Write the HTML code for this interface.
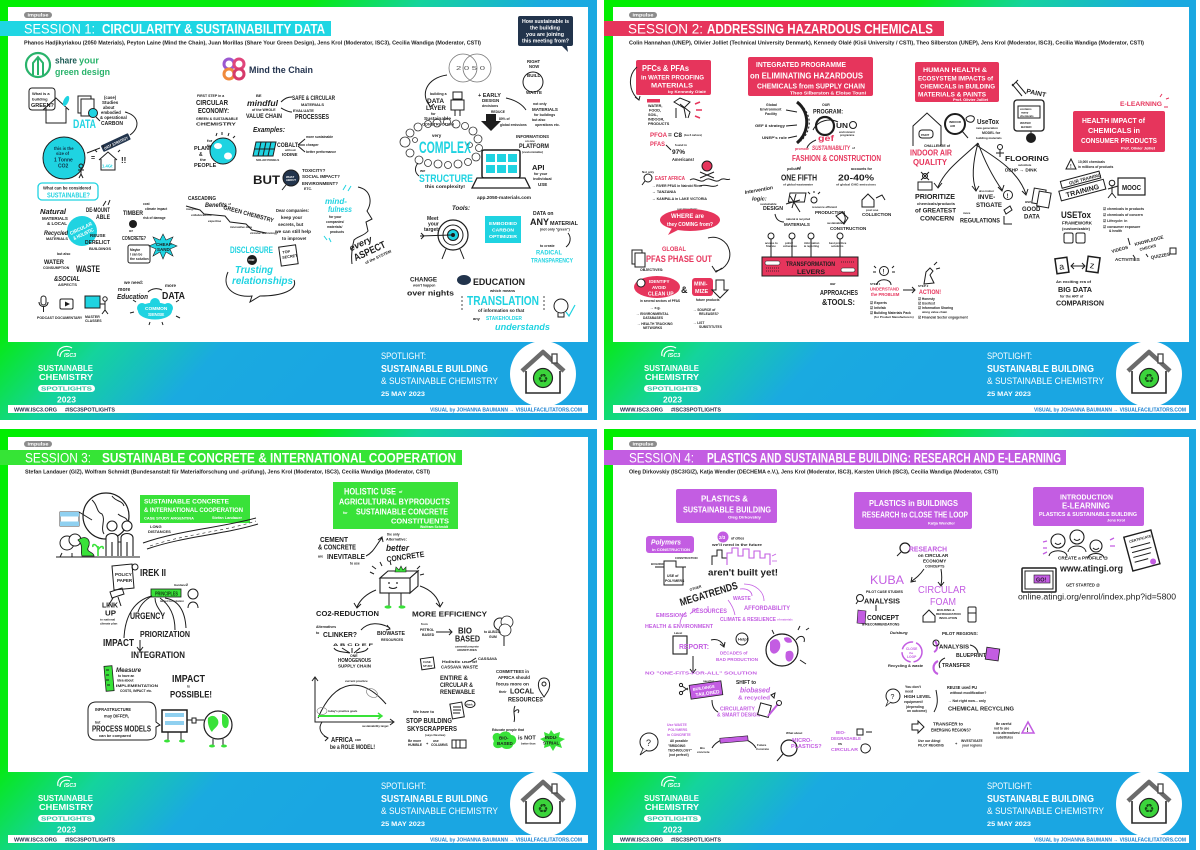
<!DOCTYPE html>
<html><head><meta charset="utf-8"><style>
html,body{margin:0;padding:0;background:#fff;}
svg{display:block}
text{font-family:"Liberation Sans",Arial,sans-serif;font-weight:bold;fill:#1d1d1d}
.w{fill:#fff}.c{fill:#1fd3e1}.p{fill:#e6355c}.g{fill:#39e239}.v{fill:#c35de2}.n{font-weight:normal}.i{font-style:italic}.b{fill:#1e2e48}.bl{fill:#1a82d2}
.s{stroke:#1d1d1d;fill:none;stroke-width:1}
</style></head><body>
<svg width="1200" height="850" viewBox="0 0 1200 850" xmlns="http://www.w3.org/2000/svg">
<defs>
<linearGradient id="fg" gradientUnits="userSpaceOnUse" x1="0" y1="0" x2="365" y2="340">
<stop offset="0" stop-color="#00ee00"/><stop offset="0.46" stop-color="#06ea12"/><stop offset="0.62" stop-color="#14d49c"/><stop offset="0.80" stop-color="#1aaae0"/><stop offset="1" stop-color="#1aa6e2"/>
</linearGradient>
</defs>
<rect width="1200" height="850" fill="#fff"/>

<!-- ================= PANEL FRAMES ================= -->
<g transform="translate(0,0)">
<rect width="597" height="420" fill="url(#fg)"/>
<rect x="8" y="7" width="580" height="335" fill="#fff"/>
<rect x="8" y="405" width="580" height="8" fill="#fff"/>
<circle cx="543" cy="374" r="33" fill="#fff"/>
<g transform="translate(543,374)"><path d="M-17 -3 V19 H17 V-3" stroke="#2a2a2a" stroke-width="1.6" fill="#fff"/><path d="M-21 -3 L0 -22 L21 -3" stroke="#6b6b6b" stroke-width="4.5" fill="none" stroke-linejoin="round"/><rect x="9" y="-20" width="5" height="9" fill="#fff" stroke="#444" stroke-width="1.3"/><circle cx="0" cy="4" r="9.5" fill="#3bd43b" stroke="#222" stroke-width="1.2"/><text x="0" y="8.5" font-size="12" text-anchor="middle" style="font-family:'DejaVu Sans',sans-serif;fill:#174a17">♻</text></g>
<path d="M58 356 C56 348, 66 344, 72 348 M60 357 C60 351, 66 349, 70 351" stroke="#fff" stroke-width="1.2" fill="none"/><text class="w i" x="64" y="357" font-size="5.5">ISC3</text>
<text class="w" x="38" y="371" font-size="8.5" textLength="55" lengthAdjust="spacingAndGlyphs">SUSTAINABLE</text>
<text class="w" x="39" y="380" font-size="8.5" textLength="54" lengthAdjust="spacingAndGlyphs">CHEMISTRY</text>
<rect x="38" y="385" width="57" height="7" rx="3.5" fill="#fff"/><text x="41" y="390.5" font-size="5.2" textLength="51" lengthAdjust="spacingAndGlyphs" style="fill:#2cc4a0">SPOTLIGHTS</text>
<text class="w" x="57" y="402.5" font-size="8.5" textLength="19" lengthAdjust="spacingAndGlyphs">2023</text>
<text class="w n" x="381" y="359" font-size="9" textLength="45" lengthAdjust="spacingAndGlyphs">SPOTLIGHT:</text>
<text class="w" x="381" y="372" font-size="10" textLength="107" lengthAdjust="spacingAndGlyphs">SUSTAINABLE BUILDING</text>
<text class="w n" x="381" y="384" font-size="9.5" textLength="117" lengthAdjust="spacingAndGlyphs">&amp; SUSTAINABLE CHEMISTRY</text>
<text class="w" x="381" y="396" font-size="6.5" textLength="44" lengthAdjust="spacingAndGlyphs">25 MAY 2023</text>
<text class="b" x="14" y="411.5" font-size="5.3" textLength="43" lengthAdjust="spacingAndGlyphs">WWW.ISC3.ORG</text>
<text class="b" x="65" y="411.5" font-size="5.3" textLength="50" lengthAdjust="spacingAndGlyphs">#ISC3SPOTLIGHTS</text>
<text class="bl" x="430" y="411.5" font-size="5.3" textLength="152" lengthAdjust="spacingAndGlyphs">VISUAL by JOHANNA BAUMANN → VISUALFACILITATORS.COM</text>
<rect x="24" y="12" width="28" height="6" rx="3" fill="#8c8c8c"/><text class="w" x="27.5" y="16.7" font-size="4.8" textLength="21" lengthAdjust="spacingAndGlyphs">impulse</text>
</g>

<g transform="translate(604,0)">
<rect width="592" height="420" fill="url(#fg)"/>
<rect x="9" y="7" width="576" height="335" fill="#fff"/>
<rect x="9" y="405" width="576" height="8" fill="#fff"/>
<circle cx="545" cy="374" r="33" fill="#fff"/>
<g transform="translate(545,374)"><path d="M-17 -3 V19 H17 V-3" stroke="#2a2a2a" stroke-width="1.6" fill="#fff"/><path d="M-21 -3 L0 -22 L21 -3" stroke="#6b6b6b" stroke-width="4.5" fill="none" stroke-linejoin="round"/><rect x="9" y="-20" width="5" height="9" fill="#fff" stroke="#444" stroke-width="1.3"/><circle cx="0" cy="4" r="9.5" fill="#3bd43b" stroke="#222" stroke-width="1.2"/><text x="0" y="8.5" font-size="12" text-anchor="middle" style="font-family:'DejaVu Sans',sans-serif;fill:#174a17">♻</text></g>
<path d="M58 356 C56 348, 66 344, 72 348 M60 357 C60 351, 66 349, 70 351" stroke="#fff" stroke-width="1.2" fill="none"/><text class="w i" x="64" y="357" font-size="5.5">ISC3</text>
<text class="w" x="40" y="371" font-size="8.5" textLength="55" lengthAdjust="spacingAndGlyphs">SUSTAINABLE</text>
<text class="w" x="41" y="380" font-size="8.5" textLength="54" lengthAdjust="spacingAndGlyphs">CHEMISTRY</text>
<rect x="40" y="385" width="57" height="7" rx="3.5" fill="#fff"/><text x="43" y="390.5" font-size="5.2" textLength="51" lengthAdjust="spacingAndGlyphs" style="fill:#2cc4a0">SPOTLIGHTS</text>
<text class="w" x="59" y="402.5" font-size="8.5" textLength="19" lengthAdjust="spacingAndGlyphs">2023</text>
<text class="w n" x="383" y="359" font-size="9" textLength="45" lengthAdjust="spacingAndGlyphs">SPOTLIGHT:</text>
<text class="w" x="383" y="372" font-size="10" textLength="107" lengthAdjust="spacingAndGlyphs">SUSTAINABLE BUILDING</text>
<text class="w n" x="383" y="384" font-size="9.5" textLength="117" lengthAdjust="spacingAndGlyphs">&amp; SUSTAINABLE CHEMISTRY</text>
<text class="w" x="383" y="396" font-size="6.5" textLength="44" lengthAdjust="spacingAndGlyphs">25 MAY 2023</text>
<text class="b" x="16" y="411.5" font-size="5.3" textLength="43" lengthAdjust="spacingAndGlyphs">WWW.ISC3.ORG</text>
<text class="b" x="67" y="411.5" font-size="5.3" textLength="50" lengthAdjust="spacingAndGlyphs">#ISC3SPOTLIGHTS</text>
<text class="bl" x="430" y="411.5" font-size="5.3" textLength="152" lengthAdjust="spacingAndGlyphs">VISUAL by JOHANNA BAUMANN → VISUALFACILITATORS.COM</text>
<rect x="25" y="12" width="28" height="6" rx="3" fill="#8c8c8c"/><text class="w" x="28.5" y="16.7" font-size="4.8" textLength="21" lengthAdjust="spacingAndGlyphs">impulse</text>
</g>

<g transform="translate(0,429)">
<rect width="597" height="421" fill="url(#fg)"/>
<rect x="8" y="8" width="580" height="335" fill="#fff"/>
<rect x="8" y="406" width="580" height="8" fill="#fff"/>
<circle cx="543" cy="375" r="33" fill="#fff"/>
<g transform="translate(543,375)"><path d="M-17 -3 V19 H17 V-3" stroke="#2a2a2a" stroke-width="1.6" fill="#fff"/><path d="M-21 -3 L0 -22 L21 -3" stroke="#6b6b6b" stroke-width="4.5" fill="none" stroke-linejoin="round"/><rect x="9" y="-20" width="5" height="9" fill="#fff" stroke="#444" stroke-width="1.3"/><circle cx="0" cy="4" r="9.5" fill="#3bd43b" stroke="#222" stroke-width="1.2"/><text x="0" y="8.5" font-size="12" text-anchor="middle" style="font-family:'DejaVu Sans',sans-serif;fill:#174a17">♻</text></g>
<path d="M58 357 C56 349, 66 345, 72 349 M60 358 C60 352, 66 350, 70 352" stroke="#fff" stroke-width="1.2" fill="none"/><text class="w i" x="64" y="358" font-size="5.5">ISC3</text>
<text class="w" x="38" y="372" font-size="8.5" textLength="55" lengthAdjust="spacingAndGlyphs">SUSTAINABLE</text>
<text class="w" x="39" y="381" font-size="8.5" textLength="54" lengthAdjust="spacingAndGlyphs">CHEMISTRY</text>
<rect x="38" y="386" width="57" height="7" rx="3.5" fill="#fff"/><text x="41" y="391.5" font-size="5.2" textLength="51" lengthAdjust="spacingAndGlyphs" style="fill:#2cc4a0">SPOTLIGHTS</text>
<text class="w" x="57" y="403.5" font-size="8.5" textLength="19" lengthAdjust="spacingAndGlyphs">2023</text>
<text class="w n" x="381" y="360" font-size="9" textLength="45" lengthAdjust="spacingAndGlyphs">SPOTLIGHT:</text>
<text class="w" x="381" y="373" font-size="10" textLength="107" lengthAdjust="spacingAndGlyphs">SUSTAINABLE BUILDING</text>
<text class="w n" x="381" y="385" font-size="9.5" textLength="117" lengthAdjust="spacingAndGlyphs">&amp; SUSTAINABLE CHEMISTRY</text>
<text class="w" x="381" y="397" font-size="6.5" textLength="44" lengthAdjust="spacingAndGlyphs">25 MAY 2023</text>
<text class="b" x="14" y="412.5" font-size="5.3" textLength="43" lengthAdjust="spacingAndGlyphs">WWW.ISC3.ORG</text>
<text class="b" x="65" y="412.5" font-size="5.3" textLength="50" lengthAdjust="spacingAndGlyphs">#ISC3SPOTLIGHTS</text>
<text class="bl" x="430" y="412.5" font-size="5.3" textLength="152" lengthAdjust="spacingAndGlyphs">VISUAL by JOHANNA BAUMANN → VISUALFACILITATORS.COM</text>
<rect x="24" y="12" width="28" height="6" rx="3" fill="#8c8c8c"/><text class="w" x="27.5" y="16.7" font-size="4.8" textLength="21" lengthAdjust="spacingAndGlyphs">impulse</text>
</g>

<g transform="translate(604,429)">
<rect width="592" height="421" fill="url(#fg)"/>
<rect x="9" y="8" width="576" height="335" fill="#fff"/>
<rect x="9" y="406" width="576" height="8" fill="#fff"/>
<circle cx="545" cy="375" r="33" fill="#fff"/>
<g transform="translate(545,375)"><path d="M-17 -3 V19 H17 V-3" stroke="#2a2a2a" stroke-width="1.6" fill="#fff"/><path d="M-21 -3 L0 -22 L21 -3" stroke="#6b6b6b" stroke-width="4.5" fill="none" stroke-linejoin="round"/><rect x="9" y="-20" width="5" height="9" fill="#fff" stroke="#444" stroke-width="1.3"/><circle cx="0" cy="4" r="9.5" fill="#3bd43b" stroke="#222" stroke-width="1.2"/><text x="0" y="8.5" font-size="12" text-anchor="middle" style="font-family:'DejaVu Sans',sans-serif;fill:#174a17">♻</text></g>
<path d="M58 357 C56 349, 66 345, 72 349 M60 358 C60 352, 66 350, 70 352" stroke="#fff" stroke-width="1.2" fill="none"/><text class="w i" x="64" y="358" font-size="5.5">ISC3</text>
<text class="w" x="40" y="372" font-size="8.5" textLength="55" lengthAdjust="spacingAndGlyphs">SUSTAINABLE</text>
<text class="w" x="41" y="381" font-size="8.5" textLength="54" lengthAdjust="spacingAndGlyphs">CHEMISTRY</text>
<rect x="40" y="386" width="57" height="7" rx="3.5" fill="#fff"/><text x="43" y="391.5" font-size="5.2" textLength="51" lengthAdjust="spacingAndGlyphs" style="fill:#2cc4a0">SPOTLIGHTS</text>
<text class="w" x="59" y="403.5" font-size="8.5" textLength="19" lengthAdjust="spacingAndGlyphs">2023</text>
<text class="w n" x="383" y="360" font-size="9" textLength="45" lengthAdjust="spacingAndGlyphs">SPOTLIGHT:</text>
<text class="w" x="383" y="373" font-size="10" textLength="107" lengthAdjust="spacingAndGlyphs">SUSTAINABLE BUILDING</text>
<text class="w n" x="383" y="385" font-size="9.5" textLength="117" lengthAdjust="spacingAndGlyphs">&amp; SUSTAINABLE CHEMISTRY</text>
<text class="w" x="383" y="397" font-size="6.5" textLength="44" lengthAdjust="spacingAndGlyphs">25 MAY 2023</text>
<text class="b" x="16" y="412.5" font-size="5.3" textLength="43" lengthAdjust="spacingAndGlyphs">WWW.ISC3.ORG</text>
<text class="b" x="67" y="412.5" font-size="5.3" textLength="50" lengthAdjust="spacingAndGlyphs">#ISC3SPOTLIGHTS</text>
<text class="bl" x="430" y="412.5" font-size="5.3" textLength="152" lengthAdjust="spacingAndGlyphs">VISUAL by JOHANNA BAUMANN → VISUALFACILITATORS.COM</text>
<rect x="25" y="12" width="28" height="6" rx="3" fill="#8c8c8c"/><text class="w" x="28.5" y="16.7" font-size="4.8" textLength="21" lengthAdjust="spacingAndGlyphs">impulse</text>
</g>

<!-- ================= PANEL 1 CONTENT ================= -->
<rect x="0" y="21" width="331" height="15" fill="#1fd6e3"/>
<text class="w n" x="24" y="33.5" font-size="13.5" textLength="71" lengthAdjust="spacingAndGlyphs">SESSION 1:</text>
<text class="w" x="102" y="33.5" font-size="13.5" textLength="223" lengthAdjust="spacingAndGlyphs">CIRCULARITY &amp; SUSTAINABILITY DATA</text>
<text x="24" y="44.5" font-size="5.5" textLength="457" lengthAdjust="spacingAndGlyphs">Phanos Hadjikyriakou (2050 Materials), Peyton Laine (Mind the Chain), Juan Morillas (Share Your Green Design), Jens Krol (Moderator, ISC3), Cecilia Wandiga (Moderator, CSTI)</text>
<rect x="518" y="16" width="55" height="30" rx="2" fill="#22344c"/><path d="M562 46 L568 52 L567 46Z" fill="#22344c"/>
<text class="w" x="522" y="23" font-size="5" textLength="47" lengthAdjust="spacingAndGlyphs">How sustainable is</text>
<text class="w" x="530" y="29.5" font-size="5" textLength="30" lengthAdjust="spacingAndGlyphs">the building</text>
<text class="w" x="526" y="36" font-size="5" textLength="38" lengthAdjust="spacingAndGlyphs">you are joining</text>
<text class="w" x="522" y="42.5" font-size="5" textLength="47" lengthAdjust="spacingAndGlyphs">this meeting from?</text>
<!-- logos -->
<circle cx="38" cy="65" r="12" fill="none" stroke="#29b36b" stroke-width="2.2"/><path d="M33 75 V63 L38 57 L43 63 V75 M38 57 V75" stroke="#29b36b" stroke-width="2" fill="none"/>
<text x="55" y="63.5" font-size="9" textLength="22" lengthAdjust="spacingAndGlyphs" style="fill:#1f5d57">share</text><text x="79" y="63.5" font-size="9" textLength="20" lengthAdjust="spacingAndGlyphs" style="fill:#29b36b">your</text>
<text x="55" y="75" font-size="9" textLength="55" lengthAdjust="spacingAndGlyphs" style="fill:#29b36b">green design</text>
<circle cx="229" cy="64" r="5" fill="none" stroke="#9b59d0" stroke-width="3"/><circle cx="239" cy="64" r="5" fill="none" stroke="#e0457b" stroke-width="3"/><circle cx="229" cy="74" r="5" fill="none" stroke="#f08a3c" stroke-width="3"/><circle cx="239" cy="74" r="5" fill="none" stroke="#d63a6a" stroke-width="3"/>
<text x="249" y="73" font-size="9.5" textLength="64" lengthAdjust="spacingAndGlyphs" style="fill:#24344f">Mind the Chain</text>
<circle cx="463" cy="68" r="14" fill="none" stroke="#777" stroke-width="0.8"/><circle cx="477" cy="68" r="14" fill="none" stroke="#777" stroke-width="0.8"/><text class="n" x="456" y="70" font-size="5" textLength="29" lengthAdjust="spacingAndGlyphs" style="fill:#555">2 0 5 0</text>
<text x="527" y="63" font-size="4.2">RIGHT</text><text x="529" y="68" font-size="4.2">NOW</text>
<circle cx="533" cy="82" r="10" class="s"/><text x="527" y="77" font-size="4.5">BUILD</text><text x="526" y="94" font-size="4.5">WASTE</text>
<!-- left column -->
<rect x="29" y="88" width="26" height="22" rx="3" class="s"/><text x="32" y="95" font-size="4">What is a</text><text x="32" y="100.5" font-size="4">building</text><text x="31" y="107" font-size="5.5">GREEN?</text>
<path d="M43 110 L56 98 L69 110 M46 108 V123 H66 V108" class="s" stroke-width="1.3"/><ellipse cx="66" cy="101" rx="2.5" ry="5.5" class="c" transform="rotate(25 66 101)"/>
<rect x="78" y="96" width="13" height="17" class="s" fill="#fff"/><rect x="81" y="99" width="13" height="17" fill="#fff" stroke="#1d1d1d"/><circle cx="93" cy="113" r="4.5" fill="#1fd3e1" stroke="#1d1d1d"/><path d="M96 117 L100 121" class="s" stroke-width="1.6"/>
<text class="c" x="73" y="128" font-size="12" textLength="23" lengthAdjust="spacingAndGlyphs">DATA</text>
<text x="104" y="99" font-size="4.2">(case)</text><text x="102" y="104" font-size="4.5">Studies</text><text x="103" y="109" font-size="4.2">about</text><text x="101" y="114" font-size="4.2">embodied</text><text x="100" y="119" font-size="4.2">&amp; operational</text><text x="101" y="125" font-size="5">CARBON</text>
<path d="M125 112 C140 116, 140 128, 130 135" class="s" stroke-width="0.8"/>
<g transform="rotate(-25 116 143)"><rect x="101" y="139" width="30" height="7" rx="1" fill="#22344c"/><text class="w" x="103" y="144.5" font-size="4" textLength="26" lengthAdjust="spacingAndGlyphs">DATA STRATEGY</text></g>
<path d="M100 148 L87 153" class="s"/>
<circle cx="64" cy="158" r="21" fill="#1fd3e1" stroke="#1d1d1d" stroke-width="1"/>
<text x="54" y="150" font-size="4.2" style="fill:#10334a">this is the</text><text x="56" y="155" font-size="4.2" style="fill:#10334a">size of</text><text x="54" y="161.5" font-size="5" style="fill:#10334a">1 Tonne</text><text x="58" y="167.5" font-size="5" style="fill:#10334a">CO2</text>
<circle cx="81" cy="166" r="2" class="s"/><path d="M81 168 V174 M78 170 L84 170 M81 174 L79 178 M81 174 L83 178" class="s" stroke-width="0.8"/>
<text x="91" y="160" font-size="7">=</text>
<path d="M99 160 L108 152 L117 160 M101 159 V170 H115 V159" class="s"/><text class="c" x="102" y="167.5" font-size="4.2">1.4Gt</text>
<text x="121" y="163" font-size="8">!!</text>
<path d="M103 145 L104 148 M112 144 L111 147 M95 150 L97 152 M120 150 L118 152" class="s" stroke-width="0.7"/>
<rect x="38" y="183" width="60" height="17" rx="4" fill="#fff" stroke="#1fd3e1" stroke-width="1.3"/>
<text x="43" y="189.5" font-size="4.5" textLength="48" lengthAdjust="spacingAndGlyphs">What can be considered</text>
<text class="c" x="47" y="197.5" font-size="7" textLength="43" lengthAdjust="spacingAndGlyphs">SUSTAINABLE?</text>
<text class="i" x="40" y="214" font-size="7" textLength="26" lengthAdjust="spacingAndGlyphs">Natural</text><text x="42" y="220" font-size="4.5">MATERIALS</text><text x="47" y="225" font-size="4.5">&amp; LOCAL</text>
<text x="86" y="212" font-size="6" textLength="24" lengthAdjust="spacingAndGlyphs">DE-MOUNT</text><text x="96" y="219" font-size="6" textLength="14" lengthAdjust="spacingAndGlyphs">ABLE</text>
<path d="M103 206 L106 201 M108 205 L110 200" class="s" stroke-width="0.8"/>
<circle cx="82" cy="231" r="15" fill="#1fd3e1"/>
<g transform="rotate(-25 82 231)"><text class="w" x="70" y="230" font-size="5" textLength="24" lengthAdjust="spacingAndGlyphs">CIRCULAR</text><text class="w" x="71" y="236" font-size="5" textLength="22" lengthAdjust="spacingAndGlyphs">&amp; HOLISTIC</text></g>
<text class="i" x="44" y="235" font-size="6.5" textLength="24" lengthAdjust="spacingAndGlyphs">Recycled</text><text x="46" y="240" font-size="3.8">MATERIALS</text>
<text x="90" y="237" font-size="4.5">REUSE</text><text x="85" y="244" font-size="5.5" textLength="25" lengthAdjust="spacingAndGlyphs">DERELICT</text><text x="89" y="250" font-size="4">BUILDINGS</text>
<text x="57" y="255" font-size="3.5">but also</text><text x="44" y="264" font-size="6" textLength="20" lengthAdjust="spacingAndGlyphs">WATER</text><text x="43" y="269" font-size="3.5">CONSUMPTION</text>
<text x="76" y="272" font-size="9" textLength="24" lengthAdjust="spacingAndGlyphs">WASTE</text>
<text class="i" x="54" y="281" font-size="7" textLength="26" lengthAdjust="spacingAndGlyphs">&amp;SOCIAL</text><text x="58" y="286" font-size="4">ASPECTS</text>
<rect x="41" y="296" width="5" height="9" rx="2.5" class="s"/><path d="M39 302 C39 308, 48 308, 48 302 M43.5 307 V312" class="s" stroke-width="0.8"/><text x="37" y="319" font-size="3.5">PODCAST</text>
<rect x="60" y="299" width="13" height="10" rx="1.5" class="s"/><path d="M65 301.5 L70 304 L65 306.5Z" fill="#1d1d1d"/><text x="55" y="319" font-size="3.5">DOCUMENTARY</text>
<rect x="85" y="296" width="15" height="12" fill="#1fd3e1" stroke="#1d1d1d"/><circle cx="105" cy="299" r="2.2" class="s"/><path d="M105 301 V310 M102 314 L105 310 L108 314 M100 304 L105 304" class="s" stroke-width="0.8"/><text x="85" y="318" font-size="3.5">MASTER</text><text x="85" y="322" font-size="3.5">CLASSES</text>
<text x="123" y="215" font-size="6" textLength="20" lengthAdjust="spacingAndGlyphs">TIMBER</text>
<text x="143" y="205" font-size="3.2">cost</text><text x="145" y="210" font-size="3.2">climate impact</text><text x="143" y="219" font-size="3.2">risk of damage</text>
<circle cx="133" cy="224" r="4" fill="#1d1d1d"/><text x="129" y="232" font-size="4">or</text>
<text x="122" y="240" font-size="5.5" textLength="24" lengthAdjust="spacingAndGlyphs">CONCRETE?</text>
<rect x="128" y="245" width="22" height="18" rx="2" class="s"/><text x="130" y="251" font-size="3.3">Maybe</text><text x="130" y="255.5" font-size="3.3">I can be</text><text x="130" y="260" font-size="3.3">the solution</text>
<polygon points="163,234 166,240 173,237 170,243 177,246 170,249 173,256 166,252 163,259 160,252 153,256 156,249 149,246 156,243 153,237 160,240" fill="#1fd3e1" stroke="#1d1d1d" stroke-width="0.6"/>
<text x="156" y="246" font-size="4.5">CHEAP</text><text x="157" y="251" font-size="4.5">SAND</text>
<text x="124" y="284" font-size="4.5">we need:</text><text x="118" y="291" font-size="5">more</text>
<text class="i" x="117" y="299" font-size="7.5" textLength="31" lengthAdjust="spacingAndGlyphs">Education</text>
<path d="M148 292 C152 288, 158 288, 162 290" class="s" stroke-width="0.8"/><text x="165" y="287" font-size="4.5">more</text>
<text x="162" y="299" font-size="10" textLength="23" lengthAdjust="spacingAndGlyphs">DATA</text>
<ellipse cx="155" cy="311" rx="17" ry="8.5" fill="#1fd3e1"/><circle cx="142" cy="308" r="5" fill="#1fd3e1"/><circle cx="168" cy="308" r="5" fill="#1fd3e1"/><circle cx="155" cy="303" r="5" fill="#1fd3e1"/>
<text class="w" x="145" y="310" font-size="4.8">COMMON</text><text class="w" x="148" y="316" font-size="4.8">SENSE</text>
<path d="M136 302 L133 300 M134 312 L130 313 M176 302 L179 300 M176 316 L180 318 M150 322 L149 325 M162 322 L163 325" class="s" stroke-width="0.7"/>
<!-- middle column -->
<text x="197" y="97" font-size="3.5">FIRST STEP in a</text>
<text x="196" y="105" font-size="7" textLength="32" lengthAdjust="spacingAndGlyphs">CIRCULAR</text>
<text x="198" y="113" font-size="7" textLength="31" lengthAdjust="spacingAndGlyphs">ECONOMY:</text>
<text x="196" y="120" font-size="3.8" textLength="42" lengthAdjust="spacingAndGlyphs">GREEN &amp; SUSTAINABLE</text>
<text x="196" y="125.5" font-size="4.5" textLength="40" lengthAdjust="spacingAndGlyphs">CHEMISTRY</text>
<text x="256" y="97" font-size="4">BE</text>
<text class="i" x="247" y="106" font-size="8.5" textLength="31" lengthAdjust="spacingAndGlyphs">mindful</text>
<text x="252" y="111" font-size="3.5">of the WHOLE</text>
<text x="246" y="118" font-size="6" textLength="36" lengthAdjust="spacingAndGlyphs">VALUE CHAIN</text>
<path d="M281 102 C285 98, 288 97, 292 97 M281 108 C285 110, 288 112, 292 112" class="s" stroke-width="0.8"/>
<text x="292" y="100" font-size="6.5" textLength="43" lengthAdjust="spacingAndGlyphs">SAFE &amp; CIRCULAR</text><text x="301" y="106" font-size="4">MATERIALS</text>
<text x="293" y="112" font-size="4">EVALUATE</text><text x="295" y="119" font-size="7" textLength="34" lengthAdjust="spacingAndGlyphs">PROCESSES</text>
<text x="207" y="142" font-size="4">for</text><text x="207" y="147" font-size="4">the</text><text x="194" y="150" font-size="5.5">PLANET</text><text x="199" y="156" font-size="5">&amp;</text><text x="200" y="161" font-size="4">the</text><text x="194" y="167" font-size="5.5">PEOPLE</text>
<circle cx="223" cy="151" r="13" fill="#1fd3e1" stroke="#1d1d1d" stroke-width="1"/><ellipse cx="218" cy="146" rx="4" ry="3" fill="#fff"/><ellipse cx="228" cy="156" rx="4" ry="3.5" fill="#fff"/><path d="M216 136 L217 133 M222 135 L222 132 M228 136 L229 133 M233 138 L235 136" class="s" stroke-width="0.7"/>
<text class="i" x="253" y="132" font-size="7.5" textLength="32" lengthAdjust="spacingAndGlyphs">Examples:</text>
<polygon points="256,142 276,142 273,156 253,156" fill="#1fd3e1" stroke="#1d1d1d"/><path d="M261 142 L258 156 M266 142 L263 156 M271 142 L268 156 M255 149 L275 149" class="s" stroke-width="0.6"/><text x="256" y="161" font-size="3">SOLAR PANELS</text>
<text x="277" y="147" font-size="6.5" textLength="21" lengthAdjust="spacingAndGlyphs">COBALT</text><text x="285" y="151" font-size="3">without</text><text x="282" y="156" font-size="4.5">IODINE</text>
<path d="M298 145 L305 139 M298 145 L305 145 M298 146 L305 152" class="s" stroke-width="0.6"/>
<text x="306" y="138" font-size="3.3">more sustainable</text><text x="306" y="146" font-size="3.3">cheaper</text><text x="306" y="153" font-size="3.3">better performance</text>
<text x="253" y="184" font-size="12" textLength="27" lengthAdjust="spacingAndGlyphs">BUT</text>
<circle cx="291" cy="178" r="8" fill="#22344c" stroke="#1d1d1d"/><path d="M286 185 L282 190" class="s" stroke-width="2"/><text class="w" x="286" y="178" font-size="2.8">WHAT</text><text class="w" x="286" y="181" font-size="2.8">ABOUT</text>
<text x="302" y="172" font-size="4.5">TOXICITY?</text><text x="302" y="178" font-size="4.5">SOCIAL IMPACT?</text><text x="302" y="185" font-size="4.5">ENVIRONMENT?</text><text x="304" y="190" font-size="3.5">ETC.</text>
<text x="188" y="200" font-size="5.5" textLength="28" lengthAdjust="spacingAndGlyphs">CASCADING</text>
<text class="i" x="205" y="207" font-size="6.5" textLength="22" lengthAdjust="spacingAndGlyphs">Benefits</text><text x="228" y="205" font-size="3">of</text>
<text x="223" y="209" font-size="6" textLength="52" lengthAdjust="spacingAndGlyphs" transform="rotate(15 223 209)">GREEN CHEMISTRY</text>
<path d="M186 206 L200 210 L204 214 L225 216 L230 222 L246 224 L252 230 L266 233" class="s" stroke-width="0.8"/>
<text x="186" y="210" font-size="3">insights</text><text x="191" y="216" font-size="3">collaborations</text><text x="208" y="222" font-size="3">expertise</text><text x="230" y="228" font-size="3">innovative data</text><text x="250" y="234" font-size="3">circular technology</text>
<text x="276" y="212" font-size="4.5" textLength="33" lengthAdjust="spacingAndGlyphs">Dear companies:</text><text x="281" y="219" font-size="4.5">keep your</text><text x="278" y="226" font-size="4.5">secrets, but</text><text x="275" y="233" font-size="4.5" textLength="36" lengthAdjust="spacingAndGlyphs">we can still help</text><text x="282" y="240" font-size="4.5">to improve!</text>
<text class="c" x="230" y="253" font-size="9" textLength="43" lengthAdjust="spacingAndGlyphs">DISCLOSURE</text>
<circle cx="252" cy="260" r="5" fill="#1d1d1d"/><text class="w" x="248.5" y="261" font-size="2.8">FOR</text>
<g transform="rotate(-8 288 256)"><rect x="280" y="246" width="17" height="19" fill="#fff" stroke="#1d1d1d"/><text x="283" y="253" font-size="3.8">TOP</text><text x="282" y="258" font-size="3.8">SECRET</text></g>
<text class="c i" x="235" y="273" font-size="10" textLength="38" lengthAdjust="spacingAndGlyphs">Trusting</text>
<text class="c i" x="232" y="284" font-size="10" textLength="61" lengthAdjust="spacingAndGlyphs">relationships</text>
<path d="M228 272 C220 290, 238 298, 252 296 L250 302 L260 296 C282 296, 298 290, 294 280" class="s" stroke-width="0.9"/>
<text class="c i" x="325" y="204" font-size="8" textLength="22" lengthAdjust="spacingAndGlyphs">mind-</text><text class="c i" x="328" y="212" font-size="8" textLength="24" lengthAdjust="spacingAndGlyphs">fulness</text>
<text x="329" y="218" font-size="3.3">for your</text><text x="326" y="223" font-size="3.3">companies/</text><text x="327" y="228" font-size="3.3">materials/</text><text x="330" y="233" font-size="3.3">products</text>
<path d="M358 187 C372 190, 372 203, 367 211 L372 219 L366 222 L368 231 C364 236, 358 236, 354 240 C352 248, 351 256, 352 264" class="s"/>
<path d="M343 190 L346 185 M348 191 L351 186 M324 236 L327 240 M329 238 L331 242" stroke="#1fd3e1" stroke-width="1"/>
<g transform="rotate(-25 368 250)"><text class="i" x="352" y="244" font-size="9" textLength="24" lengthAdjust="spacingAndGlyphs">every</text><text x="352" y="255" font-size="10" textLength="34" lengthAdjust="spacingAndGlyphs">ASPECT</text><text x="360" y="262" font-size="4">of the SYSTEM</text></g>
<!-- right column -->
<path d="M447 75 C426 78, 420 95, 430 106" class="s"/><path d="M428 102 L430 107 L434 104" class="s"/>
<text x="430" y="95" font-size="3.5">building a</text><text x="427" y="103" font-size="6.5">DATA</text><text x="426" y="110" font-size="6">LAYER</text><text x="431" y="115" font-size="3.5">for</text><text x="424" y="120" font-size="4.5" textLength="27" lengthAdjust="spacingAndGlyphs">Sustainable</text><text x="422" y="125.5" font-size="4" textLength="32" lengthAdjust="spacingAndGlyphs">CONSTRUCTION</text>
<rect x="453" y="92" width="9" height="7" class="s"/><rect x="451" y="100" width="13" height="10" class="s"/><path d="M455 110 V116 M460 110 V116" class="s"/>
<text x="478" y="97" font-size="5.5">+ EARLY</text><text x="482" y="102" font-size="4.5">DESIGN</text><text x="482" y="107" font-size="3.5">decisions</text>
<path d="M506 98 C515 100, 522 104, 526 110" class="s" stroke-width="0.8"/>
<text x="533" y="105" font-size="3.5">not only</text><text x="532" y="111" font-size="4.5">MATERIALS</text><text x="534" y="116" font-size="3.5">for buildings</text><text x="532" y="121" font-size="3.5">but also</text><text x="535" y="126" font-size="3.5">operations etc.</text>
<polygon points="486,114 496,114 496,121 501,121 491,131 481,121 486,121" fill="#1d1d1d"/>
<text x="491" y="113" font-size="3.3">REDUCE</text><text x="499" y="120" font-size="3.3">80% of</text><text x="500" y="126" font-size="3.3">global emissions</text>
<g stroke="#333" stroke-width="0.8" fill="none"><circle cx="405" cy="142" r="5"/><circle cx="410" cy="133" r="4"/><circle cx="418" cy="127" r="4"/><circle cx="428" cy="124" r="3.5"/><circle cx="437" cy="123" r="4"/><circle cx="447" cy="122" r="3.5"/><circle cx="456" cy="124" r="4"/><circle cx="465" cy="126" r="3.5"/><circle cx="473" cy="131" r="4"/><circle cx="478" cy="139" r="4"/><circle cx="479" cy="148" r="3.5"/><circle cx="476" cy="157" r="4"/><circle cx="468" cy="162" r="3.5"/><circle cx="458" cy="164" r="4"/><circle cx="448" cy="165" r="3.5"/><circle cx="438" cy="164" r="4"/><circle cx="428" cy="163" r="3.5"/><circle cx="419" cy="160" r="4"/><circle cx="410" cy="153" r="4"/><circle cx="415" cy="140" r="2.5"/><circle cx="470" cy="145" r="2.5"/></g>
<text x="432" y="137" font-size="4.5">very</text>
<text class="c" x="419" y="153" font-size="17" textLength="52" lengthAdjust="spacingAndGlyphs">COMPLEX</text>
<rect x="482" y="150" width="38" height="28" rx="2" fill="#fff" stroke="#1d1d1d" stroke-width="1.5"/>
<rect x="486" y="154" width="9" height="8" fill="#1fd3e1"/><rect x="497" y="154" width="9" height="8" fill="#1fd3e1"/><rect x="508" y="154" width="9" height="8" fill="#1fd3e1"/><rect x="486" y="165" width="9" height="8" fill="#1fd3e1"/><rect x="497" y="165" width="9" height="8" fill="#1fd3e1"/><rect x="508" y="165" width="9" height="8" fill="#1fd3e1"/>
<polygon points="477,178 525,178 530,188 472,188" fill="#fff" stroke="#1d1d1d" stroke-width="1.3"/>
<text x="516" y="138" font-size="4.8" textLength="33" lengthAdjust="spacingAndGlyphs">INFORMATIONS</text><text x="525" y="142" font-size="3">on one</text><text x="519" y="148" font-size="6" textLength="30" lengthAdjust="spacingAndGlyphs">PLATFORM</text><text x="522" y="153" font-size="3">(customizable)</text>
<text x="532" y="170" font-size="7.5">API</text><text x="534" y="175" font-size="3.5">for your</text><text x="533" y="180" font-size="4">individual</text><text x="538" y="186" font-size="4.5">USE</text>
<path d="M418 163 C414 168, 415 173, 419 176" class="s"/>
<text x="420" y="172" font-size="4">we</text>
<text class="c" x="419" y="182" font-size="11" textLength="54" lengthAdjust="spacingAndGlyphs">STRUCTURE</text>
<text x="425" y="188" font-size="4.5" textLength="40" lengthAdjust="spacingAndGlyphs">this complexity!</text>
<text x="477" y="199" font-size="4.5" textLength="54" lengthAdjust="spacingAndGlyphs">app.2050-materials.com</text>
<text class="i" x="452" y="210" font-size="6" textLength="18" lengthAdjust="spacingAndGlyphs">Tools:</text>
<text x="427" y="220" font-size="5">Meet</text><text x="428" y="225.5" font-size="5">your</text><text x="424" y="231" font-size="5">targets</text>
<circle cx="453" cy="235" r="15" fill="#fff" stroke="#1d1d1d" stroke-width="1.2"/><circle cx="453" cy="235" r="10" class="s"/><circle cx="453" cy="235" r="5.5" fill="#1fd3e1" stroke="#1d1d1d"/><circle cx="453" cy="235" r="2" fill="#1d1d1d"/>
<path d="M420 236 L451 235 M421 233 L424 236 L421 239" class="s" stroke-width="1"/><path d="M446 249 L442 259 M460 249 L464 259" class="s"/>
<rect x="485" y="216" width="36" height="27" fill="#1fd3e1"/>
<text class="w" x="489" y="225" font-size="4.8" textLength="28" lengthAdjust="spacingAndGlyphs">EMBODIED</text><text class="w" x="492" y="231.5" font-size="4.8" textLength="22" lengthAdjust="spacingAndGlyphs">CARBON</text><text class="w" x="489" y="238" font-size="4.8" textLength="28" lengthAdjust="spacingAndGlyphs">OPTIMIZER</text>
<text x="533" y="215" font-size="5">DATA on</text><text x="530" y="225" font-size="9" textLength="19" lengthAdjust="spacingAndGlyphs">ANY</text><text x="550" y="225" font-size="5.5" textLength="28" lengthAdjust="spacingAndGlyphs">MATERIAL</text><text x="540" y="230.5" font-size="3.5">(not only "green")</text>
<path d="M568 233 C572 238, 570 244, 566 247" class="s" stroke-width="0.8"/>
<text x="540" y="247" font-size="3.5">to create</text>
<text class="c" x="536" y="254.5" font-size="6" textLength="26" lengthAdjust="spacingAndGlyphs">RADICAL</text>
<text class="c" x="531" y="262.5" font-size="6" textLength="42" lengthAdjust="spacingAndGlyphs">TRANSPARENCY</text>
<text x="410" y="281.5" font-size="6.5" textLength="27" lengthAdjust="spacingAndGlyphs">CHANGE</text><text x="413" y="286.5" font-size="3.5">won't happen</text>
<text x="407" y="295.5" font-size="7.5" textLength="47" lengthAdjust="spacingAndGlyphs">over nights</text>
<ellipse cx="464" cy="280" rx="7" ry="5" fill="#22344c"/>
<text x="473" y="285" font-size="9.5" textLength="52" lengthAdjust="spacingAndGlyphs">EDUCATION</text>
<text x="490" y="292" font-size="4">which means</text>
<text class="c" x="467" y="305" font-size="13" textLength="72" lengthAdjust="spacingAndGlyphs">TRANSLATION</text>
<path d="M462 296 L462 310 M544 296 L544 310" stroke="#1d1d1d" stroke-width="0.8" stroke-dasharray="2 2"/>
<text x="478" y="312" font-size="4.5">of information so that</text>
<text x="473" y="320" font-size="4">any</text><text class="c" x="486" y="320" font-size="5.5" textLength="36" lengthAdjust="spacingAndGlyphs">STAKEHOLDER</text>
<text class="c i" x="495" y="330" font-size="9" textLength="55" lengthAdjust="spacingAndGlyphs">understands</text>
<circle cx="561" cy="306" r="7" fill="#fff" stroke="#1d1d1d"/><path d="M558 313 V317 H564 V313" class="s"/><path d="M566 312 L569 316 L575 305" stroke="#1fd3e1" stroke-width="1.2" fill="none"/>

<!-- ================= PANEL 2 CONTENT ================= -->
<rect x="604" y="21" width="340" height="15" fill="#e6355c"/>
<text class="w n" x="628" y="33.5" font-size="13.5" textLength="75" lengthAdjust="spacingAndGlyphs">SESSION 2:</text>
<text class="w" x="707" y="33.5" font-size="13.5" textLength="226" lengthAdjust="spacingAndGlyphs">ADDRESSING HAZARDOUS CHEMICALS</text>
<text x="629" y="44.5" font-size="5.5" textLength="515" lengthAdjust="spacingAndGlyphs">Colin Hannahan (UNEP), Olivier Jolliet (Technical University Denmark), Kennedy Olalé (Kisii University / CSTI), Theo Silberston (UNEP), Jens Krol (Moderator, ISC3), Cecilia Wandiga (Moderator, CSTI)</text>
<!-- box1 -->
<rect x="636" y="60" width="75" height="35" rx="2" fill="#e6355c"/>
<text class="w" x="642" y="71" font-size="8" textLength="47" lengthAdjust="spacingAndGlyphs">PFCs &amp; PFAs</text>
<text class="w" x="641" y="79.5" font-size="6" textLength="63" lengthAdjust="spacingAndGlyphs">in WATER PROOFING</text>
<text class="w" x="651" y="87.5" font-size="6.5" textLength="42" lengthAdjust="spacingAndGlyphs">MATERIALS</text>
<text class="w" x="668" y="92.8" font-size="3.5" textLength="38" lengthAdjust="spacingAndGlyphs">by Kennedy Olalé</text>
<path d="M637 67 C627 76, 629 92, 639 100" class="s"/><path d="M635 97 L639 100 L640 96" class="s"/>
<rect x="647" y="99" width="13" height="3.5" fill="#e6355c"/>
<text x="648" y="107" font-size="3.8">WATER,</text><text x="649" y="111.5" font-size="3.8">FOOD,</text><text x="648" y="116" font-size="3.8">SOIL,</text><text x="648" y="120.5" font-size="3.8">INDOOR,</text><text x="648" y="125" font-size="3.8">PRODUCTS</text>
<path d="M674 102 L680 98 L690 102 L684 108 Z M676 108 L676 118 M684 108 L686 118 M680 104 L690 112 L688 118" class="s" stroke-width="0.9"/>
<path d="M695 104 L700 102 M696 110 L702 110 M695 116 L700 118" stroke="#e6355c" stroke-width="1.5"/>
<text class="p" x="650" y="137" font-size="6.5" textLength="17" lengthAdjust="spacingAndGlyphs">PFOA</text><text x="668" y="137" font-size="6" textLength="14" lengthAdjust="spacingAndGlyphs">= C8</text><text x="684" y="136" font-size="3" textLength="18" lengthAdjust="spacingAndGlyphs">(has 8 carbons)</text>
<text class="p" x="650" y="146" font-size="6.5" textLength="15" lengthAdjust="spacingAndGlyphs">PFAS</text>
<path d="M666 145 L671 150" class="s" stroke-width="0.7"/>
<text x="675" y="146" font-size="3">found in</text><text x="672" y="154" font-size="6.5">97%</text><text x="672" y="161" font-size="4.5" textLength="22" lengthAdjust="spacingAndGlyphs">Americans!</text>
<text x="642" y="173" font-size="3">Not only</text>
<circle cx="648" cy="178" r="4" class="s"/><path d="M645 181 L642 185" class="s"/>
<text class="p" x="655" y="180" font-size="5.5" textLength="30" lengthAdjust="spacingAndGlyphs">EAST AFRICA</text>
<circle cx="707" cy="166" r="5" fill="#e6355c" stroke="#1d1d1d"/><path d="M700 172 L714 178 M714 172 L700 178" class="s"/>
<path d="M690 180 C695 176, 700 184, 705 180 C710 176, 715 184, 720 180 C724 177, 727 181, 730 179 M700 186 C706 183, 712 189, 718 185" class="s" stroke-width="0.7"/>
<text x="652" y="187" font-size="3.5" textLength="50" lengthAdjust="spacingAndGlyphs">→ RIVER PFAS in Nairobi River</text>
<text x="652" y="193" font-size="3.8">→ TANZANIA</text>
<text x="652" y="200" font-size="3.8" textLength="55" lengthAdjust="spacingAndGlyphs">→ KAMPALA in LAKE VICTORIA</text>
<text x="677" y="210" font-size="3">our important:</text>
<ellipse cx="690" cy="220" rx="30" ry="11" fill="#e6355c"/><path d="M672 228 L668 235 L678 230" fill="#e6355c"/>
<text class="w" x="671" y="218" font-size="6" textLength="33" lengthAdjust="spacingAndGlyphs">WHERE are</text>
<text class="w" x="667" y="226" font-size="5" textLength="46" lengthAdjust="spacingAndGlyphs">they COMING from?</text>
<text class="p" x="662" y="251" font-size="6.5" textLength="24" lengthAdjust="spacingAndGlyphs">GLOBAL</text>
<text class="p" x="646" y="262" font-size="9.5" textLength="66" lengthAdjust="spacingAndGlyphs">PFAS PHASE OUT</text>
<rect x="632" y="250" width="10" height="14" class="s" fill="#fff"/><rect x="635" y="253" width="10" height="14" fill="#fff" stroke="#1d1d1d"/>
<path d="M708 238 A17 17 0 1 1 716 271" class="s" stroke-width="2"/><path d="M712 266 L716 272 L722 268" class="s" stroke-width="1.5"/>
<text x="640" y="271" font-size="3.5">OBJECTIVES:</text>
<ellipse cx="657" cy="287" rx="23" ry="11" fill="#e6355c"/><circle cx="641" cy="283" r="4" fill="#fff" stroke="#1d1d1d"/>
<text class="w" x="649" y="283" font-size="4.5">IDENTIFY</text><text class="w" x="652" y="289" font-size="4.5">AVOID</text><text class="w" x="648" y="295.5" font-size="5">CLEAN UP</text>
<text x="681" y="293" font-size="9">&amp;</text>
<rect x="692" y="278" width="21" height="18" rx="3" fill="#e6355c"/><text class="w" x="694" y="285.5" font-size="5.5">MINI-</text><text class="w" x="695" y="293" font-size="5.5">MIZE</text>
<polygon points="716,280 724,280 724,290 728,290 720,298 712,290 716,290" fill="#fff" stroke="#1d1d1d"/>
<text x="696" y="301" font-size="3.2">future products</text>
<text x="640" y="302" font-size="3.2">in several sectors of PFAS</text>
<text x="650" y="309" font-size="3.5">→ e.g.</text><text x="636" y="315" font-size="3.3">→ ENVIRONMENTAL</text><text x="643" y="319" font-size="3.3">DATABASES</text><text x="637" y="325" font-size="3.3">→ HEALTH TRACKING</text><text x="643" y="329" font-size="3.3">NETWORKS</text>
<text x="693" y="311" font-size="3.3">→ SOURCE of</text><text x="699" y="315" font-size="3.3">RELEASES?</text><text x="693" y="324" font-size="3.3">→ LIST</text><text x="699" y="328" font-size="3.3">SUBSTITUTES</text>
<!-- box2 -->
<rect x="748" y="57" width="125" height="39" rx="2" fill="#e6355c"/>
<text class="w" x="756" y="67" font-size="7" textLength="90" lengthAdjust="spacingAndGlyphs">INTEGRATED PROGRAMME</text>
<text class="w" x="750" y="78.5" font-size="8" textLength="113" lengthAdjust="spacingAndGlyphs">on ELIMINATING HAZARDOUS</text>
<text class="w" x="757" y="88.5" font-size="7" textLength="108" lengthAdjust="spacingAndGlyphs">CHEMICALS from SUPPLY CHAIN</text>
<text class="w" x="790" y="94.5" font-size="4.5" textLength="76" lengthAdjust="spacingAndGlyphs">Theo Silberston &amp; Eloise Touni</text>
<text x="766" y="106" font-size="3.5">Global</text><text x="760" y="110.5" font-size="3.5">Environment</text><text x="765" y="115" font-size="3.5">Facility</text>
<text x="755" y="127" font-size="4" textLength="30" lengthAdjust="spacingAndGlyphs">GEF 8 strategy</text>
<text x="762" y="139" font-size="4" textLength="25" lengthAdjust="spacingAndGlyphs">UNEP's role</text>
<path d="M786 110 L797 112 M786 126 L797 125 M788 138 L797 136" class="s" stroke-width="0.8"/>
<path d="M797 102 C810 112, 810 132, 797 143" stroke="#1d1d1d" stroke-width="3" fill="none"/><path d="M801 105 C812 115, 812 130, 801 141" stroke="#1d1d1d" stroke-width="1" fill="none" stroke-dasharray="2 2"/>
<text x="822" y="106" font-size="3.5">OUR</text><text x="813" y="113.5" font-size="6" textLength="30" lengthAdjust="spacingAndGlyphs">PROGRAM:</text>
<circle cx="825" cy="126" r="9" fill="none" stroke="#1d1d1d" stroke-width="2.2"/><path d="M813 130 C818 120, 830 118, 838 122" class="s" stroke-width="1.4"/>
<text x="836" y="128" font-size="7.5" textLength="12" lengthAdjust="spacingAndGlyphs">UN</text><circle cx="853" cy="125" r="3.5" class="s"/><text x="839" y="133" font-size="2.6">environment</text><text x="840" y="136" font-size="2.6">programme</text>
<text class="p" x="818" y="141" font-size="8.5" textLength="16" lengthAdjust="spacingAndGlyphs">gef</text>
<path d="M816 140 C811 142, 808 145, 807 148" class="s"/>
<text class="p" x="795" y="150" font-size="3.5">promote</text>
<text class="p i" x="812" y="150" font-size="6.5" textLength="38" lengthAdjust="spacingAndGlyphs">SUSTAINABILITY</text><text x="852" y="149" font-size="3">of</text>
<text class="p" x="792" y="161" font-size="8" textLength="89" lengthAdjust="spacingAndGlyphs">FASHION &amp; CONSTRUCTION</text>
<text x="787" y="170" font-size="3.5">pollutes</text><text x="797" y="169" font-size="4">of</text>
<text x="781" y="180.5" font-size="8.5" textLength="36" lengthAdjust="spacingAndGlyphs">ONE FIFTH</text>
<text x="783" y="185.5" font-size="3" textLength="30" lengthAdjust="spacingAndGlyphs">of global wastewater</text>
<text x="851" y="170" font-size="3.5">accounts for</text>
<text x="838" y="180.5" font-size="8.5" textLength="36" lengthAdjust="spacingAndGlyphs">20-40%</text>
<text x="836" y="185.5" font-size="3" textLength="40" lengthAdjust="spacingAndGlyphs">of global GHG emissions</text>
<text class="i" x="745" y="194" font-size="5" transform="rotate(-10 745 194)">Intervention</text><text class="i" x="752" y="200.5" font-size="5.5">logic:</text>
<text x="763" y="210" font-size="5" textLength="20" lengthAdjust="spacingAndGlyphs">DESIGN</text>
<path d="M790 196 L800 212 M796 194 L792 208 M786 204 L800 200" class="s" stroke-width="1"/>
<text x="760" y="205" font-size="3">sustainable</text>
<path d="M775 214 C776 220, 780 222, 784 222" class="s" stroke-width="0.7"/>
<text x="784" y="226" font-size="4.5">MATERIALS</text><text x="786" y="220" font-size="2.8">natural &amp; recycled</text>
<circle cx="814" cy="200" r="3" class="s"/><path d="M810 194 L808 192 M818 194 L820 192 M814 193 V191" class="s" stroke-width="0.6"/>
<rect x="824" y="193" width="16" height="9" class="s" transform="skewX(-10)"/>
<text x="812" y="208" font-size="3">resource efficient</text><text x="815" y="214" font-size="4.5">PRODUCTION</text>
<path d="M843 213 C846 217, 846 220, 843 224" class="s" stroke-width="0.7"/>
<path d="M836 216 L842 212 L848 218 L844 224 Z" class="s"/>
<text x="827" y="224" font-size="2.8">sustainable</text><text x="830" y="230" font-size="4.5">CONSTRUCTION</text>
<path d="M862 200 L868 194 L874 200 V207 H862Z M876 198 L882 195 L885 200" class="s" stroke-width="0.9"/>
<text x="866" y="211" font-size="3">post use</text><text x="862" y="216" font-size="4.5">COLLECTION</text>
<g class="s" stroke-width="0.8"><circle cx="771" cy="236" r="3"/><circle cx="792" cy="236" r="3"/><circle cx="811" cy="236" r="3"/><circle cx="840" cy="236" r="3"/><path d="M771 239 V257 M792 239 V257 M811 239 V257 M840 239 V257"/></g>
<text x="765" y="244" font-size="2.8">access to</text><text x="766" y="247" font-size="2.8">finance</text><text x="785" y="244" font-size="2.8">policy</text><text x="783" y="247" font-size="2.8">coherence</text><text x="804" y="244" font-size="2.8">information</text><text x="804" y="247" font-size="2.8">&amp; reporting</text><text x="829" y="244" font-size="2.8">best practice</text><text x="831" y="247" font-size="2.8">solutions</text>
<rect x="762" y="257" width="96" height="19" fill="#e6355c" stroke="#1d1d1d"/>
<rect x="765" y="261" width="15" height="4" rx="2" fill="#fff" stroke="#1d1d1d" stroke-width="0.6"/><rect x="841" y="268" width="14" height="4" rx="2" fill="#fff" stroke="#1d1d1d" stroke-width="0.6"/>
<path d="M766 268 H780 M766 271 H780 M841 262 H855" stroke="#1d1d1d" stroke-width="0.8" stroke-dasharray="1 1"/>
<text x="786" y="266" font-size="6" textLength="49" lengthAdjust="spacingAndGlyphs">TRANSFORMATION</text>
<text x="797" y="274" font-size="6.5" textLength="28" lengthAdjust="spacingAndGlyphs">LEVERS</text>
<text x="830" y="285" font-size="3.5">our</text>
<text x="820" y="295" font-size="7" textLength="38" lengthAdjust="spacingAndGlyphs">APPROACHES</text>
<text x="822" y="305" font-size="8" textLength="33" lengthAdjust="spacingAndGlyphs">&amp;TOOLS:</text>
<circle cx="884" cy="271" r="4.5" class="s"/><text x="882.5" y="273.5" font-size="6">!</text><path d="M877 285 C877 278, 891 278, 891 285" class="s"/><path d="M874 266 L876 268 M894 266 L892 268 M873 272 H876 M892 272 H895" class="s" stroke-width="0.6"/>
<text x="870" y="285" font-size="3">STEP 1</text>
<text class="p" x="870" y="290.5" font-size="4.5" textLength="29" lengthAdjust="spacingAndGlyphs">UNDERSTAND</text><text class="p" x="871" y="296" font-size="4.2">the PROBLEM</text>
<path d="M903 290 L915 290 M912 287 L915 290 L912 293" class="s" stroke-width="1.2"/>
<path d="M924 284 L926 272 L930 268 L933 271 L930 275 L934 283 Z" class="s"/><path d="M934 265 L937 262 M936 269 L940 268" class="s" stroke-width="0.6"/>
<text x="918" y="287" font-size="3">STEP 2</text>
<text class="p" x="919" y="294" font-size="6" textLength="22" lengthAdjust="spacingAndGlyphs">ACTION!</text>
<text x="870" y="304" font-size="3.5">☑ Experts</text><text x="870" y="309" font-size="3.5">☑ Infofab</text><text x="870" y="314" font-size="3.3">☑ Building Materials Pack</text><text x="874" y="318" font-size="3">(for Product Manufacturers)</text>
<text x="918" y="300" font-size="3.3">☑ Honesty</text><text x="918" y="304.5" font-size="3.3">☑ Usertest</text><text x="918" y="309" font-size="3.3">☑ Information Sharing</text><text x="922" y="313" font-size="3">along value chain</text><text x="918" y="318.5" font-size="3.3">☑ Financial Sector engagement</text>
<!-- box3 -->
<rect x="915" y="62" width="84" height="40" rx="2" fill="#e6355c"/>
<text class="w" x="923" y="72" font-size="6.5" textLength="64" lengthAdjust="spacingAndGlyphs">HUMAN HEALTH &amp;</text>
<text class="w" x="918" y="80.5" font-size="6" textLength="75" lengthAdjust="spacingAndGlyphs">ECOSYSTEM IMPACTS of</text>
<text class="w" x="920" y="88.5" font-size="6" textLength="75" lengthAdjust="spacingAndGlyphs">CHEMICALS in BUILDING</text>
<text class="w" x="918" y="96.5" font-size="6" textLength="68" lengthAdjust="spacingAndGlyphs">MATERIALS &amp; PAINTS</text>
<text class="w" x="953" y="100.8" font-size="3.3" textLength="35" lengthAdjust="spacingAndGlyphs">Prof. Olivier Jolliet</text>
<path d="M1012 84 L1022 96 M1016 82 L1026 94 M1018 80 L1012 86" class="s"/>
<text x="1026" y="93" font-size="6.5" textLength="20" lengthAdjust="spacingAndGlyphs" transform="rotate(12 1026 93)">PAINT</text>
<rect x="1014" y="100" width="30" height="31" rx="3" fill="#fff" stroke="#1d1d1d" stroke-width="1.3"/><rect x="1018" y="106" width="22" height="12" class="s" stroke-width="0.7"/>
<text x="1020" y="110" font-size="2.8">contains</text><text x="1021" y="113.5" font-size="2.8">many</text><text x="1020" y="117" font-size="2.8">chemicals</text><text x="1020" y="124" font-size="3">WATER</text><text x="1021" y="128" font-size="3">BASED</text>
<circle cx="1031" cy="138" r="5" fill="#1d1d1d"/><path d="M1031 133 V131" class="s"/>
<path d="M913 146 V126 L927 113 L941 126 V146" class="s" stroke-width="1.2"/><rect x="919" y="130" width="14" height="8" rx="3" class="s" stroke-width="0.8"/><text x="921" y="136" font-size="2.8">PAINT</text>
<circle cx="955" cy="124" r="10" fill="#fff" stroke="#1d1d1d" stroke-width="2"/><text x="949" y="123" font-size="3">INDOOR</text><text x="950" y="127" font-size="3">AIR</text><path d="M962 131 L968 138" class="s" stroke-width="2.5"/>
<path d="M966 118 C970 114, 976 116, 974 120 C972 124, 966 122, 966 118" class="s" stroke-width="0.8"/>
<text x="977" y="124" font-size="7" textLength="22" lengthAdjust="spacingAndGlyphs">UseTox</text>
<text x="976" y="129" font-size="3">new generation</text><text x="982" y="134" font-size="3.5">MODEL for</text><text x="976" y="139" font-size="3">building materials</text>
<text x="924" y="147" font-size="3.8" textLength="26" lengthAdjust="spacingAndGlyphs">CHALLENGE of</text>
<text class="p" x="910" y="155.5" font-size="8" textLength="42" lengthAdjust="spacingAndGlyphs">INDOOR AIR</text>
<text class="p" x="913" y="165" font-size="8" textLength="34" lengthAdjust="spacingAndGlyphs">QUALITY</text>
<g class="s" stroke-width="1.2"><path d="M978 143 C960 160, 945 170, 938 187"/><path d="M978 143 C972 165, 972 180, 976 190"/><path d="M978 143 C986 165, 995 180, 1002 190"/><path d="M976 145 C1000 160, 1018 172, 1026 194"/><path d="M934 183 L938 188 L942 183"/><path d="M972 186 L976 191 L979 186"/><path d="M998 187 L1002 191 L1004 185"/><path d="M1022 191 L1026 195 L1028 189"/></g>
<circle cx="1000" cy="147" r="2.5" class="s"/><path d="M1000 150 V157 M996 153 H1004" class="s" stroke-width="0.8"/>
<text x="1005" y="161" font-size="7" textLength="44" lengthAdjust="spacingAndGlyphs">FLOORING</text>
<text x="1018" y="166" font-size="2.8">substitute</text>
<text x="1005" y="171.5" font-size="4.5" textLength="32" lengthAdjust="spacingAndGlyphs">DEHP → DINK</text>
<rect x="918" y="182" width="14" height="8" class="s"/><circle cx="925" cy="176" r="2.5" class="s"/><path d="M921 172 L929 180 M929 172 L921 180" class="s" stroke-width="0.5"/>
<text x="915" y="199" font-size="7.5" textLength="40" lengthAdjust="spacingAndGlyphs">PRIORITIZE</text>
<text x="917" y="205" font-size="3.5" textLength="38" lengthAdjust="spacingAndGlyphs">chemicals/products</text>
<text x="915" y="212.5" font-size="6.5" textLength="41" lengthAdjust="spacingAndGlyphs">of GREATEST</text>
<text x="920" y="220.5" font-size="6.5" textLength="34" lengthAdjust="spacingAndGlyphs">CONCERN</text>
<text x="979" y="192" font-size="2.8">also indoor</text>
<text x="978" y="199" font-size="6.5">INVE-</text><text x="976" y="207" font-size="6.5" textLength="26" lengthAdjust="spacingAndGlyphs">STIGATE</text>
<circle cx="1008" cy="195" r="4.5" class="s"/><text x="1006.5" y="198" font-size="6">!</text>
<text x="963" y="214" font-size="3">more</text>
<text x="960" y="222.5" font-size="6.5" textLength="40" lengthAdjust="spacingAndGlyphs">REGULATIONS</text>
<path d="M1004 210 L1010 206 L1012 210 L1006 214Z M1004 216 V224 H1012" class="s" stroke-width="0.9"/>
<text x="1025" y="203" font-size="3.5">use</text><text x="1022" y="211" font-size="6">GOOD</text><text x="1024" y="218.5" font-size="6">DATA</text>
<rect x="1033" y="189" width="12" height="15" fill="#fff" stroke="#1d1d1d" transform="rotate(10 1039 196)"/><rect x="1038" y="192" width="12" height="15" fill="#fff" stroke="#1d1d1d" transform="rotate(10 1044 199)"/>
<!-- box4 -->
<text class="p" x="1120" y="106" font-size="6.5" textLength="42" lengthAdjust="spacingAndGlyphs">E-LEARNING</text>
<path d="M1160 97 L1162 94 M1166 99 L1169 98 M1164 107 L1168 107" stroke="#e6355c" stroke-width="1"/>
<rect x="1073" y="111" width="92" height="41" rx="2" fill="#e6355c"/>
<text class="w" x="1082" y="123" font-size="7" textLength="63" lengthAdjust="spacingAndGlyphs">HEALTH IMPACT of</text>
<text class="w" x="1088" y="133" font-size="7" textLength="52" lengthAdjust="spacingAndGlyphs">CHEMICALS in</text>
<text class="w" x="1081" y="143" font-size="7" textLength="76" lengthAdjust="spacingAndGlyphs">CONSUMER PRODUCTS</text>
<text class="w" x="1121" y="149.5" font-size="3.3" textLength="34" lengthAdjust="spacingAndGlyphs">Prof. Olivier Jolliet</text>
<polygon points="1066,169 1071,159 1076,169" class="s"/><text x="1070" y="168" font-size="5">!</text>
<text x="1078" y="163" font-size="3.3">10,000 chemicals</text><text x="1078" y="168" font-size="3.3">in millions of products</text>
<g transform="rotate(-15 1082 185)"><rect x="1062" y="176" width="40" height="7" fill="#fff" stroke="#1d1d1d"/><text x="1070" y="181.5" font-size="4.5">OUR TRAINING</text><rect x="1058" y="185" width="46" height="10" fill="#fff" stroke="#1d1d1d"/><text x="1064" y="193" font-size="7" textLength="34" lengthAdjust="spacingAndGlyphs">TRAINING</text></g>
<circle cx="1112" cy="183" r="2.8" class="s"/><path d="M1112 186 V193 M1108 198 L1112 193 L1116 198 M1108 189 L1118 186" class="s" stroke-width="0.9"/>
<rect x="1118" y="178" width="27" height="17" fill="#fff" stroke="#1d1d1d" stroke-width="1.2"/>
<text x="1122" y="190" font-size="7.5" textLength="19" lengthAdjust="spacingAndGlyphs">MOOC</text>
<text x="1061" y="218" font-size="9" textLength="30" lengthAdjust="spacingAndGlyphs">USETox</text>
<text x="1062" y="224.5" font-size="4.5" textLength="30" lengthAdjust="spacingAndGlyphs">FRAMEWORK</text>
<text x="1062" y="230" font-size="3.5" textLength="28" lengthAdjust="spacingAndGlyphs">(customizable)</text>
<rect x="1064" y="233" width="9" height="10" rx="1.5" class="s"/><rect x="1076" y="233" width="9" height="10" rx="1.5" class="s"/>
<text x="1103" y="210" font-size="3.5">☑ chemicals in products</text><text x="1103" y="216" font-size="3.5">☑ chemicals of concern</text><text x="1103" y="222" font-size="3.5">☑ Lifecycle: in</text><text x="1103" y="228" font-size="3.5">☑ consumer exposure</text><text x="1109" y="232" font-size="3.3">&amp; health</text>
<text x="1112" y="253" font-size="4.5" transform="rotate(-15 1112 253)">VIDEOS</text>
<text x="1135" y="246" font-size="4.5" transform="rotate(-15 1135 246)">KNOWLEDGE</text><text x="1140" y="251" font-size="4" transform="rotate(-15 1140 251)">CHECKS</text>
<text x="1115" y="261" font-size="4.5">ACTIVITIES</text><text x="1151" y="259" font-size="4.5" transform="rotate(-10 1151 259)">QUIZZES</text>
<path d="M1128 238 L1130 245 M1133 255 L1135 258 M1146 254 L1148 257" class="s" stroke-width="0.7"/><rect x="1170" y="248" width="6" height="6" class="s" stroke-width="0.7"/>
<g transform="rotate(-8 1062 266)"><rect x="1056" y="258" width="12" height="15" fill="#fff" stroke="#1d1d1d" stroke-width="1.5"/><text x="1059" y="269.5" font-size="9" class="n">a</text></g>
<path d="M1071 266 H1085 M1074 263 L1071 266 L1074 269 M1082 263 L1085 266 L1082 269" class="s"/>
<g transform="rotate(8 1093 265)"><rect x="1087" y="257" width="12" height="15" fill="#fff" stroke="#1d1d1d" stroke-width="1.5"/><text x="1090" y="268.5" font-size="9" class="n">z</text></g>
<text x="1056" y="283" font-size="4" textLength="35" lengthAdjust="spacingAndGlyphs">An exciting era of</text>
<text x="1058" y="292" font-size="7.5" textLength="34" lengthAdjust="spacingAndGlyphs">BIG DATA</text>
<text x="1060" y="297.5" font-size="3.5">for the ART of</text>
<text x="1056" y="305.5" font-size="7.5" textLength="48" lengthAdjust="spacingAndGlyphs">COMPARISON</text>

<!-- ================= PANEL 3 CONTENT ================= -->
<rect x="0" y="450" width="462" height="15" fill="#36e436"/>
<text class="w n" x="25" y="462.5" font-size="13.5" textLength="66" lengthAdjust="spacingAndGlyphs">SESSION 3:</text>
<text class="w" x="102" y="462.5" font-size="13.5" textLength="354" lengthAdjust="spacingAndGlyphs">SUSTAINABLE CONCRETE &amp; INTERNATIONAL COOPERATION</text>
<text x="25" y="473.5" font-size="5.5" textLength="405" lengthAdjust="spacingAndGlyphs">Stefan Landauer (GIZ), Wolfram Schmidt (Bundesanstalt für Materialforschung und -prüfung), Jens Krol (Moderator, ISC3), Cecilia Wandiga (Moderator, CSTI)</text>
<!-- left -->
<circle cx="106" cy="516" r="23" fill="#fff" stroke="#1d1d1d" stroke-width="1.2"/>
<path d="M92 500 C98 505, 96 512, 102 514 C106 520, 100 528, 104 534 M112 496 C116 502, 122 500, 124 506 M118 514 C122 518, 126 516, 128 522" class="s" stroke-width="0.8"/>
<rect x="60" y="512" width="19" height="14" fill="#fff" stroke="#1d1d1d" stroke-width="0.8"/><rect x="60" y="512" width="19" height="4.5" fill="#8fd0f0"/><rect x="60" y="521.5" width="19" height="4.5" fill="#8fd0f0"/><path d="M79 512 L92 520" class="s" stroke-width="0.8"/>
<circle cx="112" cy="526" r="5" fill="#fff" stroke="#1d1d1d" stroke-width="1.1"/><circle cx="127" cy="526" r="5" fill="#fff" stroke="#1d1d1d" stroke-width="1.1"/>
<path d="M106 556 V538 C106 532, 118 532, 118 538 V556 M121 556 V538 C121 532, 133 532, 133 538 V556 M112 542 V556 M127 542 V556 M118 542 L121 542" stroke="#1d1d1d" stroke-width="1.1" fill="#fff"/>
<circle cx="67" cy="543" r="7" fill="#fff" stroke="#1d1d1d"/><circle cx="75" cy="540" r="6" fill="#fff" stroke="#1d1d1d"/><path d="M62 553 L60 557 M72 553 L72 557" class="s"/>
<path d="M78 540 C86 534, 92 540, 88 548 C86 552, 94 552, 94 556 H82 C80 550, 84 546, 78 540Z" fill="#39e239" stroke="#1d1d1d" stroke-width="0.8"/>
<path d="M98 556 V546 M98 548 C95 543, 92 544, 93 547 M98 550 C101 545, 104 546, 103 549" stroke="#39e239" stroke-width="1.6" fill="none"/>
<path d="M56 557 H140" class="s"/>
<rect x="140" y="495" width="110" height="28" fill="#39e239"/>
<text class="w" x="144" y="503.5" font-size="6.5" textLength="85" lengthAdjust="spacingAndGlyphs">SUSTAINABLE CONCRETE</text>
<text class="w" x="144" y="512" font-size="6.5" textLength="99" lengthAdjust="spacingAndGlyphs">&amp; INTERNATIONAL COOPERATION</text>
<text class="w" x="144" y="519.5" font-size="3.5" textLength="50" lengthAdjust="spacingAndGlyphs">CASE STUDY ARGENTINA</text>
<text class="w" x="212" y="519" font-size="3.5" textLength="30" lengthAdjust="spacingAndGlyphs">Stefan Landauer</text>
<path d="M143 543 C180 530, 220 528, 256 518 M147 549 C185 536, 222 535, 258 524" class="s" stroke-width="1"/><path d="M150 546 C185 534, 222 532, 256 521" stroke="#1d1d1d" stroke-width="0.6" stroke-dasharray="3 3" fill="none"/>
<text x="150" y="528" font-size="4">LONG</text><text x="148" y="533" font-size="4">DISTANCES</text>
<path d="M112 566 L132 564 L134 588 L114 590 Z" fill="#fff" stroke="#1d1d1d"/><circle cx="135" cy="567" r="3" class="s"/>
<text x="115" y="576" font-size="4.5">POLICY</text><text x="117" y="582" font-size="4.5">PAPER</text>
<text x="140" y="576" font-size="10" textLength="26" lengthAdjust="spacingAndGlyphs">IREK II</text>
<path d="M110 592 L122 588 L124 594 L112 598Z M113 598 L108 606 M118 597 L121 606" class="s" stroke-width="0.9"/>
<text x="174" y="586" font-size="3">Guidance</text>
<rect x="151" y="589" width="30" height="8" fill="#39e239" stroke="#1d1d1d" stroke-width="0.8"/>
<text x="155" y="595.5" font-size="5" textLength="23" lengthAdjust="spacingAndGlyphs" style="fill:#123a12">PRINCIPLES</text>
<text x="160" y="602" font-size="2.8">target formulation</text>
<circle cx="193" cy="594" r="5" class="s"/><path d="M188 608 C188 600, 198 600, 198 608" class="s"/><text x="186" y="586" font-size="3.5">?</text>
<g class="s" stroke-width="0.9"><path d="M152 596 C135 600, 125 615, 124 638"/><path d="M152 596 C145 600, 140 605, 138 612"/><path d="M155 598 C155 605, 160 610, 162 614"/><path d="M160 598 C170 605, 175 615, 175 630"/><path d="M165 598 C178 600, 185 610, 186 628"/></g>
<text x="102" y="607.5" font-size="7" textLength="16" lengthAdjust="spacingAndGlyphs">LINK</text><text x="105" y="615.5" font-size="7" textLength="11" lengthAdjust="spacingAndGlyphs">UP</text>
<text x="100" y="620.5" font-size="3">to national</text><text x="100" y="624.5" font-size="3">climate plan</text>
<text x="130" y="619" font-size="9" textLength="35" lengthAdjust="spacingAndGlyphs">URGENCY</text>
<text x="140" y="637" font-size="8" textLength="50" lengthAdjust="spacingAndGlyphs">PRIORIZATION</text>
<text x="103" y="646" font-size="10" textLength="31" lengthAdjust="spacingAndGlyphs">IMPACT</text>
<path d="M140 640 V650 M137 647 L140 651 L143 647" class="s" stroke-width="0.8"/>
<text x="131" y="658" font-size="9.5" textLength="54" lengthAdjust="spacingAndGlyphs">INTEGRATION</text>
<rect x="105" y="666" width="8" height="25" fill="#39e239" stroke="#1d1d1d" stroke-width="0.8" transform="rotate(-5 109 678)"/><path d="M106 670 H109 M106 675 H109 M106 680 H109 M107 685 H110" class="s" stroke-width="0.6"/>
<text class="i" x="116" y="672" font-size="6.5" textLength="25" lengthAdjust="spacingAndGlyphs">Measure</text>
<text x="118" y="677" font-size="3.3">to have an</text><text x="117" y="681.5" font-size="3.3">idea about</text>
<text x="116" y="687" font-size="4" textLength="42" lengthAdjust="spacingAndGlyphs">IMPLEMENTATION</text><text x="120" y="692" font-size="3.3">COSTS, IMPACT etc.</text>
<text x="172" y="682" font-size="10" textLength="33" lengthAdjust="spacingAndGlyphs">IMPACT</text><text x="187" y="687.5" font-size="3.5">is</text>
<text x="170" y="697.5" font-size="9.5" textLength="42" lengthAdjust="spacingAndGlyphs">POSSIBLE!</text>
<path d="M96 702 H148 C154 702, 156 706, 156 712 V722 L160 725 L156 727 V733 C156 738, 152 740, 147 740 H96 C91 740, 88 737, 88 732 V710 C88 705, 91 702, 96 702Z" class="s" stroke-width="1.2"/>
<text x="95" y="711" font-size="4.5" textLength="36" lengthAdjust="spacingAndGlyphs">INFRASTRUCTURE</text>
<text x="104" y="717.5" font-size="4.5" textLength="25" lengthAdjust="spacingAndGlyphs">may DIFFER,</text><text x="95" y="723.5" font-size="3.5">but</text>
<text x="92" y="731.5" font-size="8" textLength="59" lengthAdjust="spacingAndGlyphs">PROCESS MODELS</text>
<text x="99" y="737" font-size="3.5" textLength="32" lengthAdjust="spacingAndGlyphs">can be compared</text>
<rect x="162" y="710" width="25" height="22" fill="#fff" stroke="#1d1d1d" stroke-width="1.5"/><rect x="165" y="713" width="19" height="12" fill="#fff"/><rect x="165" y="713" width="19" height="4" fill="#8fd0f0"/><rect x="165" y="721" width="19" height="4" fill="#8fd0f0"/>
<path d="M168 732 V740 M181 732 V740" class="s"/><ellipse cx="167" cy="741" rx="3" ry="1.5" fill="#39e239"/><ellipse cx="182" cy="741" rx="3" ry="1.5" fill="#39e239"/>
<path d="M187 720 L192 720 M192 718 H196 V723 H192Z M196 720 H204" class="s" stroke-width="0.8"/>
<circle cx="218" cy="725" r="14" fill="#fff" stroke="#1d1d1d" stroke-width="1.2"/>
<path d="M208 718 C212 714, 216 716, 218 720 C220 726, 214 728, 212 732 C210 730, 207 724, 208 718Z M222 714 C228 714, 230 720, 228 726 C226 730, 222 728, 222 722Z" fill="#39e239"/>
<path d="M213 739 V746 M223 739 V746" class="s"/><ellipse cx="212" cy="746" rx="3" ry="1.5" fill="#39e239"/><ellipse cx="224" cy="746" rx="3" ry="1.5" fill="#39e239"/>
<!-- right -->
<rect x="333" y="482" width="125" height="47" fill="#39e239"/>
<text class="w" x="344" y="494.5" font-size="9" textLength="52" lengthAdjust="spacingAndGlyphs">HOLISTIC USE</text><text class="w" x="399" y="493" font-size="3.5">of</text>
<text class="w" x="339" y="504.5" font-size="8.5" textLength="111" lengthAdjust="spacingAndGlyphs">AGRICULTURAL BYPRODUCTS</text>
<text class="w" x="343" y="514" font-size="3.5">for</text>
<text class="w" x="356" y="514.5" font-size="8" textLength="92" lengthAdjust="spacingAndGlyphs">SUSTAINABLE CONCRETE</text>
<text class="w" x="391" y="523.5" font-size="7.5" textLength="58" lengthAdjust="spacingAndGlyphs">CONSTITUENTS</text>
<text class="w" x="420" y="528" font-size="3.3" textLength="28" lengthAdjust="spacingAndGlyphs">Wolfram Schmidt</text>
<text x="320" y="542" font-size="7.5" textLength="28" lengthAdjust="spacingAndGlyphs">CEMENT</text>
<text x="318" y="549.5" font-size="7" textLength="38" lengthAdjust="spacingAndGlyphs">&amp; CONCRETE</text>
<text x="318" y="557.5" font-size="3.5">are</text>
<text x="327" y="559" font-size="7.5" textLength="38" lengthAdjust="spacingAndGlyphs">INEVITABLE</text>
<text x="350" y="564.5" font-size="3.3">to use</text>
<path d="M366 556 C374 552, 376 545, 382 538 M378 540 L382 537 L383 542" class="s" stroke-width="1.2"/>
<text x="387" y="535.5" font-size="3.3">the only</text><text x="386" y="540.5" font-size="3.8">Alternative:</text>
<text class="i" x="386" y="551" font-size="9" textLength="23" lengthAdjust="spacingAndGlyphs">better</text>
<text x="387" y="562" font-size="8" textLength="38" lengthAdjust="spacingAndGlyphs" transform="rotate(-8 387 562)">CONCRETE</text>
<path d="M380 578 L388 571 L418 571 L410 578 Z" fill="#fff" stroke="#1d1d1d" stroke-width="1.1"/><path d="M410 578 L418 571 V586 L410 593 Z" fill="#fff" stroke="#1d1d1d" stroke-width="1.1"/><rect x="380" y="578" width="30" height="15" fill="#fff" stroke="#1d1d1d" stroke-width="1.1"/>
<path d="M395 572 L396 567 L399 570 L401 566 L403 570 L406 567 L406 572 Z" fill="#39e239" stroke="#1d1d1d" stroke-width="0.6"/>
<circle cx="389" cy="583" r="0.9" fill="#1d1d1d"/><circle cx="397" cy="583" r="0.9" fill="#1d1d1d"/><path d="M389 587 C391 589, 395 589, 397 587" class="s" stroke-width="0.7"/>
<path d="M389 593 V606 M401 593 V606" class="s"/><ellipse cx="388" cy="607" rx="3.5" ry="1.6" fill="#39e239"/><ellipse cx="402" cy="607" rx="3.5" ry="1.6" fill="#39e239"/>
<path d="M370 572 L374 574 M372 566 L376 569 M380 562 L382 566 M390 561 L391 565 M420 566 L417 569 M424 574 L420 575" class="s" stroke-width="0.7"/>
<path d="M376 590 C366 594, 360 600, 357 607 M354 603 L357 608 L361 604 M420 586 C432 590, 438 598, 440 606 M436 603 L440 607 L443 602" class="s" stroke-width="1"/>
<text x="316" y="616" font-size="7.5" textLength="63" lengthAdjust="spacingAndGlyphs">CO2-REDUCTION</text>
<text x="412" y="616.5" font-size="7.5" textLength="75" lengthAdjust="spacingAndGlyphs">MORE EFFICIENCY</text>
<text x="316" y="628" font-size="3.5">Alternatives</text><text x="316" y="634" font-size="3.5">to</text>
<text x="323" y="637" font-size="7.5" textLength="34" lengthAdjust="spacingAndGlyphs">CLINKER?</text>
<path d="M361 630 C368 622, 380 622, 390 628 M387 625 L390 629 L386 630" class="s" stroke-width="0.9"/>
<text x="377" y="635" font-size="5.5" textLength="28" lengthAdjust="spacingAndGlyphs">BIOWASTE</text><text x="381" y="641" font-size="3.5">RESOURCES</text>
<text x="333" y="646" font-size="4" textLength="40" lengthAdjust="spacingAndGlyphs">A  B  C  D  E  F</text>
<path d="M334 648 C336 652, 345 652, 350 653 M342 648 L350 653 M352 648 V653 M360 648 L354 653 M368 648 C366 652, 360 652, 356 653" class="s" stroke-width="0.7"/>
<text x="350" y="657" font-size="3.5">ONE</text>
<text x="338" y="662" font-size="5" textLength="33" lengthAdjust="spacingAndGlyphs">HOMOGENOUS</text>
<text x="338" y="667.5" font-size="4.5" textLength="33" lengthAdjust="spacingAndGlyphs">SUPPLY CHAIN</text>
<text x="421" y="625" font-size="3">from</text><text x="420" y="631" font-size="3.5">PETROL</text><text x="422" y="636" font-size="3.5">BASED</text>
<path d="M436 632 H452 M449 629 L452 632 L449 635" class="s" stroke-width="1"/>
<text x="458" y="633.5" font-size="8" textLength="14" lengthAdjust="spacingAndGlyphs">BIO</text>
<text x="455" y="641.5" font-size="8" textLength="25" lengthAdjust="spacingAndGlyphs">BASED</text>
<text x="455" y="647.5" font-size="3">cement/concrete</text><text x="457" y="651" font-size="3">ADMIXTURES</text>
<circle cx="500" cy="624" r="6" class="s" stroke-width="0.8"/><circle cx="507" cy="622" r="6" fill="#fff" stroke="#1d1d1d" stroke-width="0.8"/><circle cx="505" cy="630" r="6" fill="#fff" stroke="#1d1d1d" stroke-width="0.8"/><path d="M504 636 V646" class="s"/>
<text x="484" y="633" font-size="3.3">to ALBIZIA</text><text x="489" y="638" font-size="3.3">GUM</text>
<text x="478" y="660" font-size="4">CASSAVA</text><path d="M476 658 L470 662" class="s" stroke-width="0.7"/>
<rect x="421" y="658" width="13" height="11" fill="#fff" stroke="#1d1d1d" transform="rotate(-8 427 663)"/><text x="423" y="663" font-size="2.8">CASE</text><text x="423" y="667" font-size="2.8">STUDY</text>
<text x="442" y="663" font-size="4" textLength="35" lengthAdjust="spacingAndGlyphs">Holistic use of</text>
<text x="441" y="668.5" font-size="4.5" textLength="37" lengthAdjust="spacingAndGlyphs">CASSAVA WASTE</text>
<text x="440" y="680" font-size="6.5" textLength="28" lengthAdjust="spacingAndGlyphs">ENTIRE &amp;</text>
<text x="440" y="687" font-size="6.5" textLength="33" lengthAdjust="spacingAndGlyphs">CIRCULAR &amp;</text>
<text x="440" y="694" font-size="6.5" textLength="35" lengthAdjust="spacingAndGlyphs">RENEWABLE</text>
<text x="496" y="673" font-size="4.5" textLength="33" lengthAdjust="spacingAndGlyphs">COMMITTEES in</text>
<text x="498" y="679" font-size="4.5" textLength="32" lengthAdjust="spacingAndGlyphs">AFRICA should</text>
<text x="496" y="685.5" font-size="4.5" textLength="33" lengthAdjust="spacingAndGlyphs">focus more on</text>
<text x="499" y="693" font-size="3.5">their</text>
<text x="510" y="693.5" font-size="7.5" textLength="24" lengthAdjust="spacingAndGlyphs">LOCAL</text>
<text x="508" y="701.5" font-size="6" textLength="35" lengthAdjust="spacingAndGlyphs">RESOURCES</text>
<path d="M542 694 C536 686, 538 678, 544 678 C550 678, 552 686, 546 694 L544 697 Z" class="s"/><circle cx="544" cy="684" r="2" class="s" stroke-width="0.7"/>
<path d="M315 678 V722 H393 M312 681 L315 677 L318 681 M390 719 L394 722 L390 725" class="s"/>
<path d="M318 718 C335 678, 362 676, 386 704" class="s"/>
<path d="M318 716 H381" stroke="#39e239" stroke-width="2"/><path d="M378 713 L382 716 L378 719" stroke="#39e239" stroke-width="1.5" fill="none"/>
<ellipse cx="322" cy="711" rx="5" ry="3.5" fill="none" stroke="#888" stroke-width="0.7"/><ellipse cx="372" cy="693" rx="6" ry="4" fill="none" stroke="#888" stroke-width="0.7" transform="rotate(30 372 693)"/>
<text x="345" y="682" font-size="3">current practice</text><text x="328" y="712" font-size="2.8">today's practice goals</text><text x="362" y="727" font-size="2.8">sustainability target</text>
<path d="M322 722 C318 728, 320 734, 328 738 M324 736 L328 738 L325 741" class="s" stroke-width="1"/>
<text x="331" y="742" font-size="7" textLength="22" lengthAdjust="spacingAndGlyphs">AFRICA</text><text x="355" y="741" font-size="3.5">can</text>
<text x="330" y="749" font-size="6" textLength="45" lengthAdjust="spacingAndGlyphs">be a ROLE MODEL!</text>
<text x="413" y="713" font-size="4">We have to</text>
<text x="406" y="723" font-size="7" textLength="46" lengthAdjust="spacingAndGlyphs">STOP BUILDING</text>
<text x="407" y="731" font-size="7" textLength="50" lengthAdjust="spacingAndGlyphs">SKYSCRAPPERS</text>
<text x="425" y="736" font-size="3">(says Desirée)</text>
<rect x="451" y="703" width="12" height="15" fill="#fff" stroke="#1d1d1d" transform="rotate(-10 457 710)"/><path d="M453 707 H461 M453 710 H461 M453 713 H460" class="s" stroke-width="0.5"/>
<ellipse cx="470" cy="704" rx="5" ry="3.5" class="s" stroke-width="0.7"/><text x="466" y="705.5" font-size="2.8">think</text>
<text x="408" y="742" font-size="3.3">Be more</text><text x="408" y="746" font-size="3.3">HUMBLE</text><text x="426" y="745" font-size="4">+</text><text x="433" y="742" font-size="3.3">use</text><text x="431" y="746" font-size="3.3">COLUMNS</text>
<rect x="452" y="740" width="14" height="8" class="s"/><path d="M456 740 V748 M460 740 V748" class="s" stroke-width="0.7"/>
<path d="M515 706 C512 712, 516 716, 514 722 M514 712 C518 708, 520 710, 518 713" class="s" stroke-width="0.8"/>
<text x="492" y="731" font-size="3.5" textLength="32" lengthAdjust="spacingAndGlyphs">Educate people that</text>
<path d="M494 741 C490 735, 496 731, 500 734 C503 730, 510 731, 511 735 C517 735, 518 743, 513 745 C512 750, 504 750, 502 747 C497 750, 491 747, 494 741Z" fill="#39e239"/>
<text x="499" y="739.5" font-size="4.5">BIO-</text><text x="497" y="745" font-size="4.5">BASED</text>
<text x="518" y="739.5" font-size="5.5">is NOT</text><text x="521" y="744.5" font-size="2.8">better than</text>
<polygon points="551,730 554,734 560,732 559,737 565,739 560,742 562,748 556,746 553,751 550,746 544,748 545,742 540,739 545,737 544,732 549,734" fill="#39e239"/>
<text x="545" y="739" font-size="4.5">INDU-</text><text x="543" y="744.5" font-size="4.5">STRIAL</text>

<!-- ================= PANEL 4 CONTENT ================= -->
<rect x="604" y="450" width="462" height="15" fill="#c35de2"/>
<text class="w n" x="629" y="462.5" font-size="13.5" textLength="65" lengthAdjust="spacingAndGlyphs">SESSION 4:</text>
<text class="w" x="707" y="462.5" font-size="13.5" textLength="354" lengthAdjust="spacingAndGlyphs">PLASTICS AND SUSTAINABLE BUILDING: RESEARCH AND E-LEARNING</text>
<text x="629" y="473.5" font-size="5.5" textLength="369" lengthAdjust="spacingAndGlyphs">Oleg Dirkovskiy (ISC3/GIZ), Katja Wendler (DECHEMA e.V.), Jens Krol (Moderator, ISC3), Karsten Ulrich (ISC3), Cecilia Wandiga (Moderator, CSTI)</text>
<rect x="676" y="489" width="101" height="34" rx="2" fill="#c35de2"/>
<text class="w" x="701" y="501.5" font-size="8" textLength="47" lengthAdjust="spacingAndGlyphs">PLASTICS &amp;</text>
<text class="w" x="683" y="512.5" font-size="8" textLength="88" lengthAdjust="spacingAndGlyphs">SUSTAINABLE BUILDING</text>
<text class="w" x="728" y="518.5" font-size="3.5" textLength="33" lengthAdjust="spacingAndGlyphs">Oleg Dirkovskiy</text>
<rect x="854" y="492" width="118" height="37" rx="2" fill="#c35de2"/>
<text class="w" x="869" y="506" font-size="8.5" textLength="89" lengthAdjust="spacingAndGlyphs">PLASTICS in BUILDINGS</text>
<text class="w" x="862" y="517.5" font-size="8.5" textLength="106" lengthAdjust="spacingAndGlyphs">RESEARCH to CLOSE THE LOOP</text>
<text class="w" x="928" y="524.5" font-size="3.5" textLength="27" lengthAdjust="spacingAndGlyphs">Katja Wendler</text>
<rect x="1033" y="487" width="111" height="39" rx="2" fill="#c35de2"/>
<text class="w" x="1060" y="499.5" font-size="7" textLength="53" lengthAdjust="spacingAndGlyphs">INTRODUCTION</text>
<text class="w" x="1062" y="508.5" font-size="8" textLength="48" lengthAdjust="spacingAndGlyphs">E-LEARNING</text>
<text class="w" x="1039" y="516" font-size="5.5" textLength="98" lengthAdjust="spacingAndGlyphs">PLASTICS &amp; SUSTAINABLE BUILDING</text>
<text class="w" x="1107" y="521.5" font-size="3.5" textLength="18" lengthAdjust="spacingAndGlyphs">Jens Krol</text>
<!-- left col -->
<rect x="646" y="536" width="48" height="17" rx="3" fill="#c35de2"/>
<text class="w i" x="651" y="544.5" font-size="7" textLength="30" lengthAdjust="spacingAndGlyphs">Polymers</text>
<text class="w" x="652" y="551" font-size="3.5" textLength="38" lengthAdjust="spacingAndGlyphs">in CONSTRUCTION</text>
<path d="M655 567 H664 V561 H676 V567 H686 M664 567 V585 H683 V567" class="s" stroke-width="1.1"/>
<text x="651" y="565" font-size="2.8">BUILDING</text><text x="675" y="559" font-size="2.8">CONSTRUCTION</text>
<text x="667" y="577" font-size="3.5">USE of</text><text x="665" y="582" font-size="3.5">POLYMERS</text>
<circle cx="723" cy="537" r="5.5" fill="#c35de2"/><text class="w" x="719" y="539" font-size="4.5">2/3</text>
<text x="731" y="539.5" font-size="3.5">of cities</text>
<text x="712" y="546" font-size="3.5" textLength="50" lengthAdjust="spacingAndGlyphs">we'll need in the future</text>
<path d="M712 565 V556 H717 V550 H722 V558 H727 V565" class="s" stroke-width="0.9"/>
<path d="M727 565 V553 H732 V548 H738 V556 H743 V549 H749 V558 H754 V551 H760 V558 H765 V554 H770 V565" fill="none" stroke="#c35de2" stroke-width="1.1"/>
<path d="M772 556 L776 554 M772 561 H777" stroke="#c35de2" stroke-width="0.8"/>
<text x="708" y="575.5" font-size="9" textLength="70" lengthAdjust="spacingAndGlyphs">aren't built yet!</text>
<text x="690" y="591" font-size="3.5" transform="rotate(-17 690 591)">OTHER</text>
<text x="681" y="606" font-size="10.5" textLength="60" lengthAdjust="spacingAndGlyphs" transform="rotate(-17 681 606)">MEGATRENDS</text>
<g stroke="#c35de2" stroke-width="0.8" fill="none"><path d="M740 589 C748 588, 752 592, 752 596"/><path d="M744 584 C756 584, 764 592, 764 601"/><path d="M708 606 V612"/><path d="M698 608 C694 610, 692 612, 690 614"/><path d="M728 600 C732 605, 734 610, 735 615"/><path d="M686 612 C682 616, 680 620, 680 624"/></g>
<text class="v" x="733" y="600" font-size="5">WASTE</text>
<text class="v" x="744" y="610" font-size="6" textLength="46" lengthAdjust="spacingAndGlyphs">AFFORDABILITY</text>
<text class="v" x="692" y="613" font-size="6" textLength="35" lengthAdjust="spacingAndGlyphs">RESOURCES</text>
<text class="v" x="656" y="617" font-size="5.5" textLength="31" lengthAdjust="spacingAndGlyphs">EMISSIONS</text>
<text class="v" x="720" y="621" font-size="5.5" textLength="56" lengthAdjust="spacingAndGlyphs">CLIMATE &amp; RESILIENCE</text><text class="v" x="777" y="620.5" font-size="2.8">of materials</text>
<text class="v" x="645" y="628" font-size="5.5" textLength="68" lengthAdjust="spacingAndGlyphs">HEALTH &amp; ENVIRONMENT</text>
<rect x="673" y="636" width="14" height="18" fill="#fff" stroke="#1d1d1d" stroke-width="1.1"/><text x="674" y="634" font-size="2.8">Latest</text>
<text class="v" x="679" y="649" font-size="7" textLength="30" lengthAdjust="spacingAndGlyphs">REPORT:</text>
<path d="M711 640 C718 638, 722 642, 724 646 M720 644 L724 647 L725 642" class="s" stroke-width="0.9"/>
<text class="v" x="720" y="654.5" font-size="4.5">DECADES of</text>
<text class="v" x="716" y="661" font-size="4.5" textLength="42" lengthAdjust="spacingAndGlyphs">BAD PRODUCTION</text>
<circle cx="742" cy="639" r="6" fill="#fff" stroke="#1d1d1d"/><text x="738" y="640.5" font-size="4">Help!</text>
<circle cx="782" cy="650" r="16" fill="#fff" stroke="#1d1d1d" stroke-width="1.2"/>
<path d="M770 642 C775 636, 782 640, 780 648 C778 654, 772 656, 770 650Z M786 652 C792 648, 796 654, 792 660 C788 664, 784 660, 786 652Z M784 638 C788 636, 792 638, 792 642 C788 644, 784 642, 784 638Z" fill="#c35de2"/>
<path d="M796 640 C800 634, 806 636, 804 642 M800 660 L806 664 M798 630 L800 626 M806 630 L809 628" class="s" stroke-width="0.7"/><path d="M774 634 L772 630" class="s" stroke-width="0.6"/>
<path d="M693 656 V672 M690 669 L693 673 L696 669" class="s" stroke-width="0.9"/>
<text class="v" x="645" y="674.5" font-size="4.5" textLength="112" lengthAdjust="spacingAndGlyphs">NO "ONE-FITS-FOR-ALL" SOLUTION</text>
<text x="703" y="682" font-size="2.8">need for</text>
<path d="M682 686 L688 690 M682 692 L688 688" class="s"/><circle cx="681" cy="685" r="1.6" class="s" stroke-width="0.6"/><circle cx="681" cy="693" r="1.6" class="s" stroke-width="0.6"/>
<g transform="rotate(-8 706 690)"><rect x="690" y="683" width="32" height="14" fill="#c35de2" stroke="#1d1d1d" stroke-width="0.8"/><text class="w" x="693" y="689" font-size="4">BUILDINGS</text><text class="w" x="695" y="695" font-size="4.8">TAILORED</text></g>
<text x="736" y="684" font-size="5" textLength="20" lengthAdjust="spacingAndGlyphs">SHIFT to</text>
<text class="v i" x="740" y="692.5" font-size="7" textLength="30" lengthAdjust="spacingAndGlyphs">biobased</text>
<text class="v" x="738" y="699.5" font-size="5.5" textLength="32" lengthAdjust="spacingAndGlyphs">&amp; recycled</text>
<path d="M771 695 L775 693 L774 698Z" class="s" stroke-width="0.6"/>
<path d="M712 700 C712 706, 714 710, 718 712" class="s" stroke-width="0.8"/>
<text class="v" x="720" y="710.5" font-size="5" textLength="35" lengthAdjust="spacingAndGlyphs">CIRCULARITY</text>
<text class="v" x="717" y="716.5" font-size="5" textLength="43" lengthAdjust="spacingAndGlyphs">&amp; SMART DESIGN</text>
<rect x="759" y="704" width="11" height="12" fill="#fff" stroke="#1d1d1d" transform="rotate(15 764 710)"/><path d="M768 716 L778 704" stroke="#c35de2" stroke-width="2"/><circle cx="779" cy="703" r="2.5" class="s"/>
<circle cx="649" cy="742" r="9" fill="#fff" stroke="#1d1d1d" stroke-width="1"/><path d="M643 749 L640 755 L647 750" fill="#fff" stroke="#1d1d1d" stroke-width="0.8"/><text x="646" y="746" font-size="9" class="n">?</text>
<text class="v" x="667" y="726" font-size="3.5">Use WASTE</text><text class="v" x="668" y="731" font-size="3.5">POLYMERS</text><text class="v" x="667" y="736" font-size="3.5">in CONCRETE</text>
<text x="670" y="742" font-size="3.2">All possible</text><text x="668" y="747" font-size="3.2">"BRIDGING</text><text x="668" y="751.5" font-size="3.2">TECHNOLOGY"</text><text x="669" y="756" font-size="3.2">(not perfect!)</text>
<path d="M712 748 C720 734, 748 734, 756 748" class="s" stroke-width="1.1"/><rect x="720" y="737" width="28" height="5" fill="#c35de2" stroke="#1d1d1d" stroke-width="0.6" transform="rotate(-5 734 740)"/>
<text x="700" y="749" font-size="3">Bio</text><text x="697" y="753" font-size="3">concrete</text><text x="757" y="746" font-size="3">Future</text><text x="756" y="750" font-size="3">Concrete</text>
<circle cx="789" cy="748" r="8" fill="#fff" stroke="#1d1d1d" stroke-width="1.2"/><path d="M783 754 L777 761" class="s" stroke-width="2"/>
<text x="786" y="734" font-size="3">What about</text>
<text class="v" x="792" y="742" font-size="5.5">MICRO-</text><text class="v" x="791" y="748" font-size="5.5">PLASTICS?</text>
<text class="v" x="836" y="734" font-size="4.5">BIO-</text><text class="v" x="831" y="740" font-size="4.5" textLength="30" lengthAdjust="spacingAndGlyphs">DEGRADABLE</text><text x="838" y="745" font-size="3.5">vs</text><text class="v" x="831" y="751" font-size="4.5" textLength="27" lengthAdjust="spacingAndGlyphs">CIRCULAR</text>
<rect x="857" y="729" width="6" height="6" class="s" stroke-width="0.7"/><path d="M866 732 H872 M862 745 C858 752, 866 756, 870 750 C872 746, 866 742, 862 745" class="s" stroke-width="0.8"/>
<!-- middle col -->
<circle cx="905" cy="548" r="5" fill="#fff" stroke="#1d1d1d" stroke-width="1.2"/><path d="M901 552 L897 556" class="s" stroke-width="1.5"/>
<text class="v" x="909" y="551.5" font-size="7.5" textLength="38" lengthAdjust="spacingAndGlyphs">RESEARCH</text>
<text x="918" y="557" font-size="4.5">on CIRCULAR</text><text x="923" y="562.5" font-size="4.5">ECONOMY</text><text x="925" y="567.5" font-size="3.5">CONCEPTS</text>
<path d="M924 569 C920 575, 916 578, 912 581 M912 577 L911 582 L916 581 M941 569 C942 575, 942 580, 941 585 M938 582 L941 586 L944 582" class="s" stroke-width="0.9"/>
<text class="v n" x="870" y="584" font-size="11.5" textLength="34" lengthAdjust="spacingAndGlyphs">KUBA</text>
<text x="866" y="593" font-size="3.5" textLength="37" lengthAdjust="spacingAndGlyphs">PILOT CASE STUDIES</text>
<text class="v n" x="918" y="593" font-size="10.5" textLength="48" lengthAdjust="spacingAndGlyphs">CIRCULAR</text>
<text class="v n" x="930" y="605" font-size="10.5" textLength="26" lengthAdjust="spacingAndGlyphs">FOAM</text>
<circle cx="860" cy="598" r="3.5" class="s" stroke-width="1.4"/><path d="M858 601 L856 604" class="s" stroke-width="1.4"/>
<text x="864" y="603.5" font-size="7.5" textLength="36" lengthAdjust="spacingAndGlyphs">ANALYSIS</text>
<path d="M876 605 V611" class="s" stroke-width="0.8"/>
<polygon points="858,610 866,611 865,624 857,623" fill="#c35de2" stroke="#1d1d1d" stroke-width="0.6"/>
<text x="867" y="620" font-size="7.5" textLength="32" lengthAdjust="spacingAndGlyphs">CONCEPT</text>
<text x="862" y="625.5" font-size="3.3">&amp; RECOMMENDATIONS</text>
<path d="M923 616 L929 610 L935 616 V622 H923Z" class="s" stroke-width="0.9"/>
<text x="937" y="611" font-size="3">BUILDING &amp;</text><text x="936" y="615" font-size="3">REFRIGERATION</text><text x="939" y="619" font-size="3">INSULATION</text>
<rect x="968" y="607" width="8" height="15" rx="1" class="s"/><path d="M968 613 H976" class="s" stroke-width="0.6"/>
<text class="i" x="890" y="634" font-size="4">Duisburg</text>
<circle cx="912" cy="652" r="10" fill="none" stroke="#c35de2" stroke-width="1.5" stroke-dasharray="14 3"/>
<text class="v" x="906" y="650" font-size="3.3">CLOSE</text><text class="v" x="909" y="654" font-size="2.8">the</text><text class="v" x="907" y="658" font-size="3.3">LOOP</text>
<text x="888" y="667" font-size="4">Recycling &amp; waste</text>
<text x="942" y="635" font-size="4.5" textLength="36" lengthAdjust="spacingAndGlyphs">PILOT REGIONS:</text>
<path d="M935 641 C938 645, 938 650, 934 652" stroke="#c35de2" stroke-width="2" fill="none"/><circle cx="936" cy="643" r="3" class="s"/>
<text x="939" y="648.5" font-size="5.5" textLength="30" lengthAdjust="spacingAndGlyphs">ANALYSIS</text>
<path d="M970 645 C975 646, 978 650, 978 654" class="s" stroke-width="0.8"/>
<text x="956" y="657" font-size="5" textLength="30" lengthAdjust="spacingAndGlyphs">BLUEPRINT</text>
<rect x="986" y="648" width="13" height="12" fill="#c35de2" stroke="#1d1d1d" stroke-width="0.8" transform="rotate(8 992 654)"/>
<path d="M945 658 C940 660, 938 664, 940 668" class="s" stroke-width="0.8"/>
<path d="M938 661 C932 664, 932 672, 938 674" stroke="#c35de2" stroke-width="2.2" fill="none"/>
<text x="942" y="667" font-size="5" textLength="28" lengthAdjust="spacingAndGlyphs">TRANSFER</text>
<circle cx="893" cy="696" r="7" fill="#fff" stroke="#1d1d1d"/><path d="M888 701 L886 706 L891 702" fill="#fff" stroke="#1d1d1d" stroke-width="0.7"/><text x="890.5" y="699" font-size="7" class="n">?</text>
<text x="905" y="688" font-size="3.5">You don't</text><text x="905" y="692.5" font-size="3.5">need</text><text x="904" y="698" font-size="4.5">HIGH LEVEL</text><text x="904" y="703" font-size="3.5">equipment!</text><text x="906" y="708" font-size="3.3">(depending</text><text x="907" y="712" font-size="3.3">on outcome)</text>
<path d="M936 690 C938 700, 938 705, 934 712" class="s" stroke-width="0.7"/>
<text x="947" y="689" font-size="4.5" textLength="30" lengthAdjust="spacingAndGlyphs">REUSE used PU</text>
<text x="950" y="694" font-size="3.5">without modification?</text>
<text x="948" y="702" font-size="3.5">→ Not right now... only</text>
<text x="948" y="710.5" font-size="5.5" textLength="66" lengthAdjust="spacingAndGlyphs">CHEMICAL RECYCLING</text>
<path d="M912 724 H918 V721 L924 727 L918 733 V730 H912Z" fill="#fff" stroke="#1d1d1d" stroke-width="1"/>
<text x="933" y="725.5" font-size="4.5">TRANSFER to</text>
<text x="931" y="731.5" font-size="4.5" textLength="40" lengthAdjust="spacingAndGlyphs">EMERGING REGIONS?</text>
<text x="918" y="742" font-size="3.3">Use our Atingi</text><text x="918" y="746.5" font-size="3.3">PILOT REGIONS</text><text x="955" y="745" font-size="4">+</text><text x="961" y="742" font-size="3.3">INVESTIGATE</text><text x="962" y="746.5" font-size="3.3">your regions</text>
<text x="996" y="725" font-size="3.2">Be careful</text><text x="994" y="729.5" font-size="3.2">not to use</text><text x="993" y="734" font-size="3.2">toxic alternatives/</text><text x="996" y="738.5" font-size="3.2">substitutes</text>
<polygon points="1022,733 1028,722 1034,733" fill="#fff" stroke="#c35de2" stroke-width="1.5"/><text x="1026.5" y="732" font-size="6">!</text>
<!-- right col -->
<path d="M1043 542 L1047 541 M1043 548 L1047 548 M1043 554 L1047 552 M1110 540 L1114 538 M1110 546 L1115 546" stroke="#c35de2" stroke-width="1.3"/>
<circle cx="1058" cy="541" r="7" fill="#fff" stroke="#1d1d1d" stroke-width="1.1"/><circle cx="1077" cy="537" r="7" fill="#fff" stroke="#1d1d1d" stroke-width="1.1"/><circle cx="1096" cy="546" r="6" fill="#fff" stroke="#1d1d1d" stroke-width="1.1"/>
<path d="M1055 543 C1057 545, 1059 545, 1061 543 M1074 539 C1076 541, 1078 541, 1080 539 M1093 548 C1095 550, 1097 550, 1099 548" class="s" stroke-width="0.6"/>
<path d="M1049 556 C1050 549, 1066 549, 1067 556 M1068 552 C1069 544, 1085 544, 1086 552 M1088 558 C1089 552, 1103 552, 1104 558" class="s"/>
<text x="1058" y="559.5" font-size="4.5" textLength="50" lengthAdjust="spacingAndGlyphs">CREATE a PROFILE @</text>
<text x="1060" y="571.5" font-size="9" textLength="63" lengthAdjust="spacingAndGlyphs">www.atingi.org</text>
<g transform="rotate(-15 1142 551)"><rect x="1128" y="533" width="28" height="35" fill="#fff" stroke="#1d1d1d" stroke-width="1.4"/><text x="1132" y="540" font-size="3.5">CERTIFICATE</text><path d="M1132 545 H1152 M1132 550 H1152 M1132 555 H1150 M1132 560 H1146" class="s" stroke-width="0.8"/><circle cx="1150" cy="564" r="3" fill="#c35de2"/></g>
<rect x="1022" y="568" width="34" height="24" rx="1" fill="#fff" stroke="#1d1d1d" stroke-width="1.5"/><rect x="1025" y="571" width="28" height="18" class="s" stroke-width="0.6"/>
<rect x="1034" y="575" width="16" height="8" fill="#c35de2" stroke="#1d1d1d" stroke-width="0.6"/><text x="1036" y="581.5" font-size="5.5">GO!</text>
<text x="1066" y="586.5" font-size="4.5" textLength="34" lengthAdjust="spacingAndGlyphs">GET STARTED @</text>
<text class="n" x="1018" y="599.5" font-size="8" textLength="158" lengthAdjust="spacingAndGlyphs">online.atingi.org/enrol/index.php?id=5800</text>
</svg>
</body></html>
